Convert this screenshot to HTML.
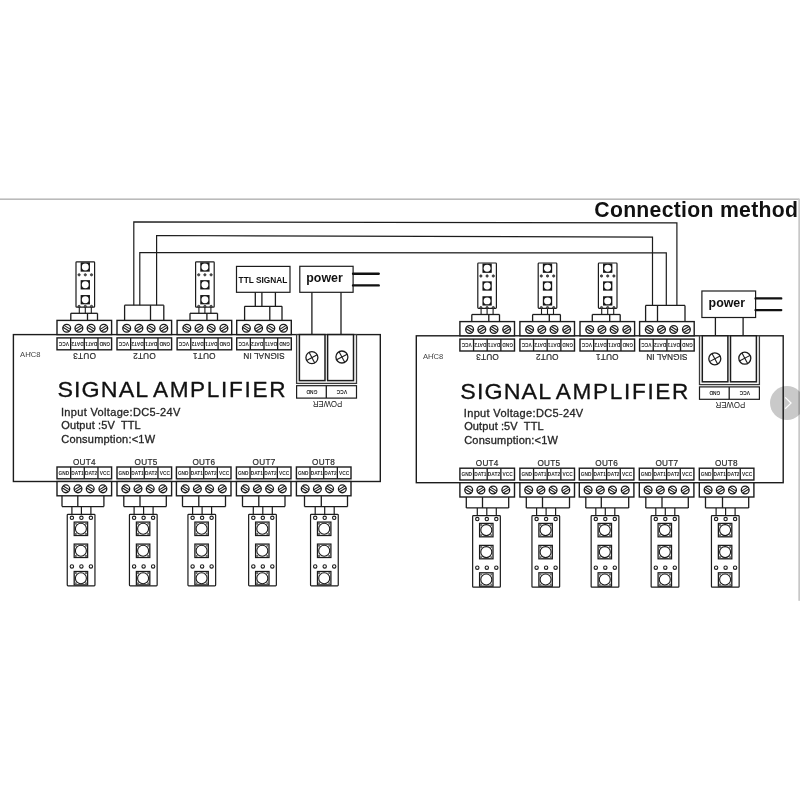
<!DOCTYPE html>
<html lang="en"><head><meta charset="utf-8"><title>Connection method</title>
<style>
html,body{margin:0;padding:0;background:#fff;}
body{width:800px;height:800px;overflow:hidden;position:relative;font-family:"Liberation Sans",sans-serif;}
svg{position:absolute;left:0;top:0;display:block;will-change:transform;}
svg text{font-family:"Liberation Sans",sans-serif;}
</style></head><body>
<svg width="800" height="800" viewBox="0 0 800 800">
<rect x="0" y="0" width="800" height="800" fill="#fff"/>

<rect x="0" y="198.55" width="799" height="1.2" fill="#a4a4a4"/>
<rect x="798.3" y="198.6" width="1.7" height="402.2" fill="#c8c8c8"/>
<text x="594.30" y="216.80" font-size="21.2" text-anchor="start" font-weight="bold" fill="#111" textLength="203.60" lengthAdjust="spacing" >Connection method</text>
<polyline points="133.80,305.20 133.80,221.90 676.90,222.90 676.90,305.40" fill="none" stroke="#1c1c1c" stroke-width="1.2"/>
<polyline points="156.60,305.20 156.60,235.50 652.50,237.20 652.50,305.40" fill="none" stroke="#1c1c1c" stroke-width="1.2"/>
<polyline points="139.80,305.20 139.80,252.50 666.30,252.90 666.30,305.40" fill="none" stroke="#1c1c1c" stroke-width="1.2"/>
<g transform="translate(0.00 0.00)">
<rect x="13.40" y="334.60" width="366.90" height="146.90" fill="none" stroke="#1c1c1c" stroke-width="1.4" />
<rect x="57.00" y="320.40" width="54.60" height="14.20" fill="#fff" stroke="#1c1c1c" stroke-width="1.4" />
<circle cx="66.70" cy="328.30" r="3.90" fill="none" stroke="#1c1c1c" stroke-width="1.3"/>
<line x1="64.11" y1="325.38" x2="70.46" y2="329.35" stroke="#1c1c1c" stroke-width="1.1" />
<line x1="62.94" y1="327.25" x2="69.29" y2="331.22" stroke="#1c1c1c" stroke-width="1.1" />
<circle cx="78.90" cy="328.30" r="3.90" fill="none" stroke="#1c1c1c" stroke-width="1.3"/>
<line x1="75.14" y1="329.35" x2="81.49" y2="325.38" stroke="#1c1c1c" stroke-width="1.1" />
<line x1="76.31" y1="331.22" x2="82.66" y2="327.25" stroke="#1c1c1c" stroke-width="1.1" />
<circle cx="91.10" cy="328.30" r="3.90" fill="none" stroke="#1c1c1c" stroke-width="1.3"/>
<line x1="88.51" y1="325.38" x2="94.86" y2="329.35" stroke="#1c1c1c" stroke-width="1.1" />
<line x1="87.34" y1="327.25" x2="93.69" y2="331.22" stroke="#1c1c1c" stroke-width="1.1" />
<circle cx="103.80" cy="328.30" r="3.90" fill="none" stroke="#1c1c1c" stroke-width="1.3"/>
<line x1="100.04" y1="329.35" x2="106.39" y2="325.38" stroke="#1c1c1c" stroke-width="1.1" />
<line x1="101.21" y1="331.22" x2="107.56" y2="327.25" stroke="#1c1c1c" stroke-width="1.1" />
<rect x="57.00" y="337.90" width="54.60" height="11.90" fill="none" stroke="#1c1c1c" stroke-width="1.4" />
<line x1="70.65" y1="337.90" x2="70.65" y2="349.80" stroke="#1c1c1c" stroke-width="1.3" />
<line x1="84.30" y1="337.90" x2="84.30" y2="349.80" stroke="#1c1c1c" stroke-width="1.3" />
<line x1="97.95" y1="337.90" x2="97.95" y2="349.80" stroke="#1c1c1c" stroke-width="1.3" />
<text x="63.83" y="342.05" font-size="5.2" text-anchor="middle" font-weight="bold" fill="#2a2a2a" transform="rotate(180 63.83 342.05)" textLength="10.20" lengthAdjust="spacingAndGlyphs" >VCC</text>
<text x="77.47" y="342.05" font-size="5.2" text-anchor="middle" font-weight="bold" fill="#2a2a2a" transform="rotate(180 77.47 342.05)" textLength="12.30" lengthAdjust="spacingAndGlyphs" >DAT2</text>
<text x="91.12" y="342.05" font-size="5.2" text-anchor="middle" font-weight="bold" fill="#2a2a2a" transform="rotate(180 91.12 342.05)" textLength="12.30" lengthAdjust="spacingAndGlyphs" >DAT1</text>
<text x="104.78" y="342.05" font-size="5.2" text-anchor="middle" font-weight="bold" fill="#2a2a2a" transform="rotate(180 104.78 342.05)" textLength="10.60" lengthAdjust="spacingAndGlyphs" >GND</text>
<text x="84.60" y="352.70" font-size="8.2" text-anchor="middle" font-weight="normal" fill="#2a2a2a" transform="rotate(180 84.60 352.70)" textLength="22.60" lengthAdjust="spacing" stroke="#2a2a2a" stroke-width="0.2">OUT3</text>
<rect x="117.00" y="320.40" width="54.60" height="14.20" fill="#fff" stroke="#1c1c1c" stroke-width="1.4" />
<circle cx="126.70" cy="328.30" r="3.90" fill="none" stroke="#1c1c1c" stroke-width="1.3"/>
<line x1="124.11" y1="325.38" x2="130.46" y2="329.35" stroke="#1c1c1c" stroke-width="1.1" />
<line x1="122.94" y1="327.25" x2="129.29" y2="331.22" stroke="#1c1c1c" stroke-width="1.1" />
<circle cx="138.90" cy="328.30" r="3.90" fill="none" stroke="#1c1c1c" stroke-width="1.3"/>
<line x1="135.14" y1="329.35" x2="141.49" y2="325.38" stroke="#1c1c1c" stroke-width="1.1" />
<line x1="136.31" y1="331.22" x2="142.66" y2="327.25" stroke="#1c1c1c" stroke-width="1.1" />
<circle cx="151.10" cy="328.30" r="3.90" fill="none" stroke="#1c1c1c" stroke-width="1.3"/>
<line x1="148.51" y1="325.38" x2="154.86" y2="329.35" stroke="#1c1c1c" stroke-width="1.1" />
<line x1="147.34" y1="327.25" x2="153.69" y2="331.22" stroke="#1c1c1c" stroke-width="1.1" />
<circle cx="163.80" cy="328.30" r="3.90" fill="none" stroke="#1c1c1c" stroke-width="1.3"/>
<line x1="160.04" y1="329.35" x2="166.39" y2="325.38" stroke="#1c1c1c" stroke-width="1.1" />
<line x1="161.21" y1="331.22" x2="167.56" y2="327.25" stroke="#1c1c1c" stroke-width="1.1" />
<rect x="117.00" y="337.90" width="54.60" height="11.90" fill="none" stroke="#1c1c1c" stroke-width="1.4" />
<line x1="130.65" y1="337.90" x2="130.65" y2="349.80" stroke="#1c1c1c" stroke-width="1.3" />
<line x1="144.30" y1="337.90" x2="144.30" y2="349.80" stroke="#1c1c1c" stroke-width="1.3" />
<line x1="157.95" y1="337.90" x2="157.95" y2="349.80" stroke="#1c1c1c" stroke-width="1.3" />
<text x="123.83" y="342.05" font-size="5.2" text-anchor="middle" font-weight="bold" fill="#2a2a2a" transform="rotate(180 123.83 342.05)" textLength="10.20" lengthAdjust="spacingAndGlyphs" >VCC</text>
<text x="137.47" y="342.05" font-size="5.2" text-anchor="middle" font-weight="bold" fill="#2a2a2a" transform="rotate(180 137.47 342.05)" textLength="12.30" lengthAdjust="spacingAndGlyphs" >DAT2</text>
<text x="151.12" y="342.05" font-size="5.2" text-anchor="middle" font-weight="bold" fill="#2a2a2a" transform="rotate(180 151.12 342.05)" textLength="12.30" lengthAdjust="spacingAndGlyphs" >DAT1</text>
<text x="164.78" y="342.05" font-size="5.2" text-anchor="middle" font-weight="bold" fill="#2a2a2a" transform="rotate(180 164.78 342.05)" textLength="10.60" lengthAdjust="spacingAndGlyphs" >GND</text>
<text x="144.40" y="352.70" font-size="8.2" text-anchor="middle" font-weight="normal" fill="#2a2a2a" transform="rotate(180 144.40 352.70)" textLength="22.60" lengthAdjust="spacing" stroke="#2a2a2a" stroke-width="0.2">OUT2</text>
<rect x="177.10" y="320.40" width="54.60" height="14.20" fill="#fff" stroke="#1c1c1c" stroke-width="1.4" />
<circle cx="186.80" cy="328.30" r="3.90" fill="none" stroke="#1c1c1c" stroke-width="1.3"/>
<line x1="184.21" y1="325.38" x2="190.56" y2="329.35" stroke="#1c1c1c" stroke-width="1.1" />
<line x1="183.04" y1="327.25" x2="189.39" y2="331.22" stroke="#1c1c1c" stroke-width="1.1" />
<circle cx="199.00" cy="328.30" r="3.90" fill="none" stroke="#1c1c1c" stroke-width="1.3"/>
<line x1="195.24" y1="329.35" x2="201.59" y2="325.38" stroke="#1c1c1c" stroke-width="1.1" />
<line x1="196.41" y1="331.22" x2="202.76" y2="327.25" stroke="#1c1c1c" stroke-width="1.1" />
<circle cx="211.20" cy="328.30" r="3.90" fill="none" stroke="#1c1c1c" stroke-width="1.3"/>
<line x1="208.61" y1="325.38" x2="214.96" y2="329.35" stroke="#1c1c1c" stroke-width="1.1" />
<line x1="207.44" y1="327.25" x2="213.79" y2="331.22" stroke="#1c1c1c" stroke-width="1.1" />
<circle cx="223.90" cy="328.30" r="3.90" fill="none" stroke="#1c1c1c" stroke-width="1.3"/>
<line x1="220.14" y1="329.35" x2="226.49" y2="325.38" stroke="#1c1c1c" stroke-width="1.1" />
<line x1="221.31" y1="331.22" x2="227.66" y2="327.25" stroke="#1c1c1c" stroke-width="1.1" />
<rect x="177.10" y="337.90" width="54.60" height="11.90" fill="none" stroke="#1c1c1c" stroke-width="1.4" />
<line x1="190.75" y1="337.90" x2="190.75" y2="349.80" stroke="#1c1c1c" stroke-width="1.3" />
<line x1="204.40" y1="337.90" x2="204.40" y2="349.80" stroke="#1c1c1c" stroke-width="1.3" />
<line x1="218.05" y1="337.90" x2="218.05" y2="349.80" stroke="#1c1c1c" stroke-width="1.3" />
<text x="183.92" y="342.05" font-size="5.2" text-anchor="middle" font-weight="bold" fill="#2a2a2a" transform="rotate(180 183.92 342.05)" textLength="10.20" lengthAdjust="spacingAndGlyphs" >VCC</text>
<text x="197.57" y="342.05" font-size="5.2" text-anchor="middle" font-weight="bold" fill="#2a2a2a" transform="rotate(180 197.57 342.05)" textLength="12.30" lengthAdjust="spacingAndGlyphs" >DAT2</text>
<text x="211.22" y="342.05" font-size="5.2" text-anchor="middle" font-weight="bold" fill="#2a2a2a" transform="rotate(180 211.22 342.05)" textLength="12.30" lengthAdjust="spacingAndGlyphs" >DAT1</text>
<text x="224.88" y="342.05" font-size="5.2" text-anchor="middle" font-weight="bold" fill="#2a2a2a" transform="rotate(180 224.88 342.05)" textLength="10.60" lengthAdjust="spacingAndGlyphs" >GND</text>
<text x="204.30" y="352.70" font-size="8.2" text-anchor="middle" font-weight="normal" fill="#2a2a2a" transform="rotate(180 204.30 352.70)" textLength="22.60" lengthAdjust="spacing" stroke="#2a2a2a" stroke-width="0.2">OUT1</text>
<rect x="236.70" y="320.40" width="54.60" height="14.20" fill="#fff" stroke="#1c1c1c" stroke-width="1.4" />
<circle cx="246.40" cy="328.30" r="3.90" fill="none" stroke="#1c1c1c" stroke-width="1.3"/>
<line x1="243.81" y1="325.38" x2="250.16" y2="329.35" stroke="#1c1c1c" stroke-width="1.1" />
<line x1="242.64" y1="327.25" x2="248.99" y2="331.22" stroke="#1c1c1c" stroke-width="1.1" />
<circle cx="258.60" cy="328.30" r="3.90" fill="none" stroke="#1c1c1c" stroke-width="1.3"/>
<line x1="254.84" y1="329.35" x2="261.19" y2="325.38" stroke="#1c1c1c" stroke-width="1.1" />
<line x1="256.01" y1="331.22" x2="262.36" y2="327.25" stroke="#1c1c1c" stroke-width="1.1" />
<circle cx="270.80" cy="328.30" r="3.90" fill="none" stroke="#1c1c1c" stroke-width="1.3"/>
<line x1="268.21" y1="325.38" x2="274.56" y2="329.35" stroke="#1c1c1c" stroke-width="1.1" />
<line x1="267.04" y1="327.25" x2="273.39" y2="331.22" stroke="#1c1c1c" stroke-width="1.1" />
<circle cx="283.50" cy="328.30" r="3.90" fill="none" stroke="#1c1c1c" stroke-width="1.3"/>
<line x1="279.74" y1="329.35" x2="286.09" y2="325.38" stroke="#1c1c1c" stroke-width="1.1" />
<line x1="280.91" y1="331.22" x2="287.26" y2="327.25" stroke="#1c1c1c" stroke-width="1.1" />
<rect x="236.70" y="337.90" width="54.60" height="11.90" fill="none" stroke="#1c1c1c" stroke-width="1.4" />
<line x1="250.35" y1="337.90" x2="250.35" y2="349.80" stroke="#1c1c1c" stroke-width="1.3" />
<line x1="264.00" y1="337.90" x2="264.00" y2="349.80" stroke="#1c1c1c" stroke-width="1.3" />
<line x1="277.65" y1="337.90" x2="277.65" y2="349.80" stroke="#1c1c1c" stroke-width="1.3" />
<text x="243.52" y="342.05" font-size="5.2" text-anchor="middle" font-weight="bold" fill="#2a2a2a" transform="rotate(180 243.52 342.05)" textLength="10.20" lengthAdjust="spacingAndGlyphs" >VCC</text>
<text x="257.18" y="342.05" font-size="5.2" text-anchor="middle" font-weight="bold" fill="#2a2a2a" transform="rotate(180 257.18 342.05)" textLength="12.30" lengthAdjust="spacingAndGlyphs" >DAT2</text>
<text x="270.82" y="342.05" font-size="5.2" text-anchor="middle" font-weight="bold" fill="#2a2a2a" transform="rotate(180 270.82 342.05)" textLength="12.30" lengthAdjust="spacingAndGlyphs" >DAT1</text>
<text x="284.47" y="342.05" font-size="5.2" text-anchor="middle" font-weight="bold" fill="#2a2a2a" transform="rotate(180 284.47 342.05)" textLength="10.60" lengthAdjust="spacingAndGlyphs" >GND</text>
<text x="264.00" y="352.70" font-size="8.2" text-anchor="middle" font-weight="normal" fill="#2a2a2a" transform="rotate(180 264.00 352.70)" textLength="41.40" lengthAdjust="spacing" stroke="#2a2a2a" stroke-width="0.2">SIGNAL IN</text>
<rect x="57.00" y="467.00" width="54.60" height="11.80" fill="none" stroke="#1c1c1c" stroke-width="1.4" />
<line x1="70.65" y1="467.00" x2="70.65" y2="478.80" stroke="#1c1c1c" stroke-width="1.3" />
<line x1="84.30" y1="467.00" x2="84.30" y2="478.80" stroke="#1c1c1c" stroke-width="1.3" />
<line x1="97.95" y1="467.00" x2="97.95" y2="478.80" stroke="#1c1c1c" stroke-width="1.3" />
<text x="63.83" y="474.80" font-size="5.2" text-anchor="middle" font-weight="bold" fill="#2a2a2a" textLength="10.60" lengthAdjust="spacingAndGlyphs" >GND</text>
<text x="77.47" y="474.80" font-size="5.2" text-anchor="middle" font-weight="bold" fill="#2a2a2a" textLength="12.30" lengthAdjust="spacingAndGlyphs" >DAT1</text>
<text x="91.12" y="474.80" font-size="5.2" text-anchor="middle" font-weight="bold" fill="#2a2a2a" textLength="12.30" lengthAdjust="spacingAndGlyphs" >DAT2</text>
<text x="104.78" y="474.80" font-size="5.2" text-anchor="middle" font-weight="bold" fill="#2a2a2a" textLength="10.20" lengthAdjust="spacingAndGlyphs" >VCC</text>
<rect x="57.00" y="481.50" width="54.60" height="14.30" fill="#fff" stroke="#1c1c1c" stroke-width="1.4" />
<circle cx="65.80" cy="488.85" r="3.90" fill="none" stroke="#1c1c1c" stroke-width="1.3"/>
<line x1="63.21" y1="485.93" x2="69.56" y2="489.90" stroke="#1c1c1c" stroke-width="1.1" />
<line x1="62.04" y1="487.80" x2="68.39" y2="491.77" stroke="#1c1c1c" stroke-width="1.1" />
<circle cx="78.00" cy="488.85" r="3.90" fill="none" stroke="#1c1c1c" stroke-width="1.3"/>
<line x1="74.24" y1="489.90" x2="80.59" y2="485.93" stroke="#1c1c1c" stroke-width="1.1" />
<line x1="75.41" y1="491.77" x2="81.76" y2="487.80" stroke="#1c1c1c" stroke-width="1.1" />
<circle cx="90.20" cy="488.85" r="3.90" fill="none" stroke="#1c1c1c" stroke-width="1.3"/>
<line x1="87.61" y1="485.93" x2="93.96" y2="489.90" stroke="#1c1c1c" stroke-width="1.1" />
<line x1="86.44" y1="487.80" x2="92.79" y2="491.77" stroke="#1c1c1c" stroke-width="1.1" />
<circle cx="102.90" cy="488.85" r="3.90" fill="none" stroke="#1c1c1c" stroke-width="1.3"/>
<line x1="99.14" y1="489.90" x2="105.49" y2="485.93" stroke="#1c1c1c" stroke-width="1.1" />
<line x1="100.31" y1="491.77" x2="106.66" y2="487.80" stroke="#1c1c1c" stroke-width="1.1" />
<text x="84.20" y="464.60" font-size="8.2" text-anchor="middle" font-weight="normal" fill="#2a2a2a" textLength="22.60" lengthAdjust="spacing" stroke="#2a2a2a" stroke-width="0.2">OUT4</text>
<rect x="117.00" y="467.00" width="54.60" height="11.80" fill="none" stroke="#1c1c1c" stroke-width="1.4" />
<line x1="130.65" y1="467.00" x2="130.65" y2="478.80" stroke="#1c1c1c" stroke-width="1.3" />
<line x1="144.30" y1="467.00" x2="144.30" y2="478.80" stroke="#1c1c1c" stroke-width="1.3" />
<line x1="157.95" y1="467.00" x2="157.95" y2="478.80" stroke="#1c1c1c" stroke-width="1.3" />
<text x="123.83" y="474.80" font-size="5.2" text-anchor="middle" font-weight="bold" fill="#2a2a2a" textLength="10.60" lengthAdjust="spacingAndGlyphs" >GND</text>
<text x="137.47" y="474.80" font-size="5.2" text-anchor="middle" font-weight="bold" fill="#2a2a2a" textLength="12.30" lengthAdjust="spacingAndGlyphs" >DAT1</text>
<text x="151.12" y="474.80" font-size="5.2" text-anchor="middle" font-weight="bold" fill="#2a2a2a" textLength="12.30" lengthAdjust="spacingAndGlyphs" >DAT2</text>
<text x="164.78" y="474.80" font-size="5.2" text-anchor="middle" font-weight="bold" fill="#2a2a2a" textLength="10.20" lengthAdjust="spacingAndGlyphs" >VCC</text>
<rect x="117.00" y="481.50" width="54.60" height="14.30" fill="#fff" stroke="#1c1c1c" stroke-width="1.4" />
<circle cx="125.80" cy="488.85" r="3.90" fill="none" stroke="#1c1c1c" stroke-width="1.3"/>
<line x1="123.21" y1="485.93" x2="129.56" y2="489.90" stroke="#1c1c1c" stroke-width="1.1" />
<line x1="122.04" y1="487.80" x2="128.39" y2="491.77" stroke="#1c1c1c" stroke-width="1.1" />
<circle cx="138.00" cy="488.85" r="3.90" fill="none" stroke="#1c1c1c" stroke-width="1.3"/>
<line x1="134.24" y1="489.90" x2="140.59" y2="485.93" stroke="#1c1c1c" stroke-width="1.1" />
<line x1="135.41" y1="491.77" x2="141.76" y2="487.80" stroke="#1c1c1c" stroke-width="1.1" />
<circle cx="150.20" cy="488.85" r="3.90" fill="none" stroke="#1c1c1c" stroke-width="1.3"/>
<line x1="147.61" y1="485.93" x2="153.96" y2="489.90" stroke="#1c1c1c" stroke-width="1.1" />
<line x1="146.44" y1="487.80" x2="152.79" y2="491.77" stroke="#1c1c1c" stroke-width="1.1" />
<circle cx="162.90" cy="488.85" r="3.90" fill="none" stroke="#1c1c1c" stroke-width="1.3"/>
<line x1="159.14" y1="489.90" x2="165.49" y2="485.93" stroke="#1c1c1c" stroke-width="1.1" />
<line x1="160.31" y1="491.77" x2="166.66" y2="487.80" stroke="#1c1c1c" stroke-width="1.1" />
<text x="145.90" y="464.60" font-size="8.2" text-anchor="middle" font-weight="normal" fill="#2a2a2a" textLength="22.60" lengthAdjust="spacing" stroke="#2a2a2a" stroke-width="0.2">OUT5</text>
<rect x="176.40" y="467.00" width="54.60" height="11.80" fill="none" stroke="#1c1c1c" stroke-width="1.4" />
<line x1="190.05" y1="467.00" x2="190.05" y2="478.80" stroke="#1c1c1c" stroke-width="1.3" />
<line x1="203.70" y1="467.00" x2="203.70" y2="478.80" stroke="#1c1c1c" stroke-width="1.3" />
<line x1="217.35" y1="467.00" x2="217.35" y2="478.80" stroke="#1c1c1c" stroke-width="1.3" />
<text x="183.22" y="474.80" font-size="5.2" text-anchor="middle" font-weight="bold" fill="#2a2a2a" textLength="10.60" lengthAdjust="spacingAndGlyphs" >GND</text>
<text x="196.88" y="474.80" font-size="5.2" text-anchor="middle" font-weight="bold" fill="#2a2a2a" textLength="12.30" lengthAdjust="spacingAndGlyphs" >DAT1</text>
<text x="210.53" y="474.80" font-size="5.2" text-anchor="middle" font-weight="bold" fill="#2a2a2a" textLength="12.30" lengthAdjust="spacingAndGlyphs" >DAT2</text>
<text x="224.18" y="474.80" font-size="5.2" text-anchor="middle" font-weight="bold" fill="#2a2a2a" textLength="10.20" lengthAdjust="spacingAndGlyphs" >VCC</text>
<rect x="176.40" y="481.50" width="54.60" height="14.30" fill="#fff" stroke="#1c1c1c" stroke-width="1.4" />
<circle cx="185.20" cy="488.85" r="3.90" fill="none" stroke="#1c1c1c" stroke-width="1.3"/>
<line x1="182.61" y1="485.93" x2="188.96" y2="489.90" stroke="#1c1c1c" stroke-width="1.1" />
<line x1="181.44" y1="487.80" x2="187.79" y2="491.77" stroke="#1c1c1c" stroke-width="1.1" />
<circle cx="197.40" cy="488.85" r="3.90" fill="none" stroke="#1c1c1c" stroke-width="1.3"/>
<line x1="193.64" y1="489.90" x2="199.99" y2="485.93" stroke="#1c1c1c" stroke-width="1.1" />
<line x1="194.81" y1="491.77" x2="201.16" y2="487.80" stroke="#1c1c1c" stroke-width="1.1" />
<circle cx="209.60" cy="488.85" r="3.90" fill="none" stroke="#1c1c1c" stroke-width="1.3"/>
<line x1="207.01" y1="485.93" x2="213.36" y2="489.90" stroke="#1c1c1c" stroke-width="1.1" />
<line x1="205.84" y1="487.80" x2="212.19" y2="491.77" stroke="#1c1c1c" stroke-width="1.1" />
<circle cx="222.30" cy="488.85" r="3.90" fill="none" stroke="#1c1c1c" stroke-width="1.3"/>
<line x1="218.54" y1="489.90" x2="224.89" y2="485.93" stroke="#1c1c1c" stroke-width="1.1" />
<line x1="219.71" y1="491.77" x2="226.06" y2="487.80" stroke="#1c1c1c" stroke-width="1.1" />
<text x="203.70" y="464.60" font-size="8.2" text-anchor="middle" font-weight="normal" fill="#2a2a2a" textLength="22.60" lengthAdjust="spacing" stroke="#2a2a2a" stroke-width="0.2">OUT6</text>
<rect x="236.40" y="467.00" width="54.60" height="11.80" fill="none" stroke="#1c1c1c" stroke-width="1.4" />
<line x1="250.05" y1="467.00" x2="250.05" y2="478.80" stroke="#1c1c1c" stroke-width="1.3" />
<line x1="263.70" y1="467.00" x2="263.70" y2="478.80" stroke="#1c1c1c" stroke-width="1.3" />
<line x1="277.35" y1="467.00" x2="277.35" y2="478.80" stroke="#1c1c1c" stroke-width="1.3" />
<text x="243.22" y="474.80" font-size="5.2" text-anchor="middle" font-weight="bold" fill="#2a2a2a" textLength="10.60" lengthAdjust="spacingAndGlyphs" >GND</text>
<text x="256.88" y="474.80" font-size="5.2" text-anchor="middle" font-weight="bold" fill="#2a2a2a" textLength="12.30" lengthAdjust="spacingAndGlyphs" >DAT1</text>
<text x="270.52" y="474.80" font-size="5.2" text-anchor="middle" font-weight="bold" fill="#2a2a2a" textLength="12.30" lengthAdjust="spacingAndGlyphs" >DAT2</text>
<text x="284.18" y="474.80" font-size="5.2" text-anchor="middle" font-weight="bold" fill="#2a2a2a" textLength="10.20" lengthAdjust="spacingAndGlyphs" >VCC</text>
<rect x="236.40" y="481.50" width="54.60" height="14.30" fill="#fff" stroke="#1c1c1c" stroke-width="1.4" />
<circle cx="245.20" cy="488.85" r="3.90" fill="none" stroke="#1c1c1c" stroke-width="1.3"/>
<line x1="242.61" y1="485.93" x2="248.96" y2="489.90" stroke="#1c1c1c" stroke-width="1.1" />
<line x1="241.44" y1="487.80" x2="247.79" y2="491.77" stroke="#1c1c1c" stroke-width="1.1" />
<circle cx="257.40" cy="488.85" r="3.90" fill="none" stroke="#1c1c1c" stroke-width="1.3"/>
<line x1="253.64" y1="489.90" x2="259.99" y2="485.93" stroke="#1c1c1c" stroke-width="1.1" />
<line x1="254.81" y1="491.77" x2="261.16" y2="487.80" stroke="#1c1c1c" stroke-width="1.1" />
<circle cx="269.60" cy="488.85" r="3.90" fill="none" stroke="#1c1c1c" stroke-width="1.3"/>
<line x1="267.01" y1="485.93" x2="273.36" y2="489.90" stroke="#1c1c1c" stroke-width="1.1" />
<line x1="265.84" y1="487.80" x2="272.19" y2="491.77" stroke="#1c1c1c" stroke-width="1.1" />
<circle cx="282.30" cy="488.85" r="3.90" fill="none" stroke="#1c1c1c" stroke-width="1.3"/>
<line x1="278.54" y1="489.90" x2="284.89" y2="485.93" stroke="#1c1c1c" stroke-width="1.1" />
<line x1="279.71" y1="491.77" x2="286.06" y2="487.80" stroke="#1c1c1c" stroke-width="1.1" />
<text x="263.90" y="464.60" font-size="8.2" text-anchor="middle" font-weight="normal" fill="#2a2a2a" textLength="22.60" lengthAdjust="spacing" stroke="#2a2a2a" stroke-width="0.2">OUT7</text>
<rect x="296.40" y="467.00" width="54.60" height="11.80" fill="none" stroke="#1c1c1c" stroke-width="1.4" />
<line x1="310.05" y1="467.00" x2="310.05" y2="478.80" stroke="#1c1c1c" stroke-width="1.3" />
<line x1="323.70" y1="467.00" x2="323.70" y2="478.80" stroke="#1c1c1c" stroke-width="1.3" />
<line x1="337.35" y1="467.00" x2="337.35" y2="478.80" stroke="#1c1c1c" stroke-width="1.3" />
<text x="303.22" y="474.80" font-size="5.2" text-anchor="middle" font-weight="bold" fill="#2a2a2a" textLength="10.60" lengthAdjust="spacingAndGlyphs" >GND</text>
<text x="316.88" y="474.80" font-size="5.2" text-anchor="middle" font-weight="bold" fill="#2a2a2a" textLength="12.30" lengthAdjust="spacingAndGlyphs" >DAT1</text>
<text x="330.52" y="474.80" font-size="5.2" text-anchor="middle" font-weight="bold" fill="#2a2a2a" textLength="12.30" lengthAdjust="spacingAndGlyphs" >DAT2</text>
<text x="344.17" y="474.80" font-size="5.2" text-anchor="middle" font-weight="bold" fill="#2a2a2a" textLength="10.20" lengthAdjust="spacingAndGlyphs" >VCC</text>
<rect x="296.40" y="481.50" width="54.60" height="14.30" fill="#fff" stroke="#1c1c1c" stroke-width="1.4" />
<circle cx="305.20" cy="488.85" r="3.90" fill="none" stroke="#1c1c1c" stroke-width="1.3"/>
<line x1="302.61" y1="485.93" x2="308.96" y2="489.90" stroke="#1c1c1c" stroke-width="1.1" />
<line x1="301.44" y1="487.80" x2="307.79" y2="491.77" stroke="#1c1c1c" stroke-width="1.1" />
<circle cx="317.40" cy="488.85" r="3.90" fill="none" stroke="#1c1c1c" stroke-width="1.3"/>
<line x1="313.64" y1="489.90" x2="319.99" y2="485.93" stroke="#1c1c1c" stroke-width="1.1" />
<line x1="314.81" y1="491.77" x2="321.16" y2="487.80" stroke="#1c1c1c" stroke-width="1.1" />
<circle cx="329.60" cy="488.85" r="3.90" fill="none" stroke="#1c1c1c" stroke-width="1.3"/>
<line x1="327.01" y1="485.93" x2="333.36" y2="489.90" stroke="#1c1c1c" stroke-width="1.1" />
<line x1="325.84" y1="487.80" x2="332.19" y2="491.77" stroke="#1c1c1c" stroke-width="1.1" />
<circle cx="342.30" cy="488.85" r="3.90" fill="none" stroke="#1c1c1c" stroke-width="1.3"/>
<line x1="338.54" y1="489.90" x2="344.89" y2="485.93" stroke="#1c1c1c" stroke-width="1.1" />
<line x1="339.71" y1="491.77" x2="346.06" y2="487.80" stroke="#1c1c1c" stroke-width="1.1" />
<text x="323.40" y="464.60" font-size="8.2" text-anchor="middle" font-weight="normal" fill="#2a2a2a" textLength="22.60" lengthAdjust="spacing" stroke="#2a2a2a" stroke-width="0.2">OUT8</text>
<rect x="296.60" y="334.60" width="59.90" height="48.80" fill="#fff" stroke="#3a3a3a" stroke-width="1.3" />
<rect x="299.40" y="334.60" width="25.60" height="46.00" fill="#fff" stroke="#1c1c1c" stroke-width="1.5" />
<rect x="327.60" y="334.60" width="25.90" height="46.00" fill="#fff" stroke="#1c1c1c" stroke-width="1.5" />
<circle cx="311.90" cy="357.60" r="6.00" fill="none" stroke="#1c1c1c" stroke-width="1.3"/>
<line x1="309.08" y1="352.30" x2="314.72" y2="362.90" stroke="#1c1c1c" stroke-width="1.1" />
<line x1="306.60" y1="360.42" x2="317.20" y2="354.78" stroke="#1c1c1c" stroke-width="1.1" />
<circle cx="341.90" cy="357.00" r="6.00" fill="none" stroke="#1c1c1c" stroke-width="1.3"/>
<line x1="339.08" y1="351.70" x2="344.72" y2="362.30" stroke="#1c1c1c" stroke-width="1.1" />
<line x1="336.60" y1="359.82" x2="347.20" y2="354.18" stroke="#1c1c1c" stroke-width="1.1" />
<rect x="296.60" y="385.70" width="59.90" height="12.40" fill="none" stroke="#1c1c1c" stroke-width="1.2" />
<line x1="326.30" y1="385.70" x2="326.30" y2="398.10" stroke="#1c1c1c" stroke-width="1.3" />
<text x="311.90" y="390.10" font-size="5.2" text-anchor="middle" font-weight="bold" fill="#2a2a2a" transform="rotate(180 311.90 390.10)" textLength="11.00" lengthAdjust="spacingAndGlyphs" >GND</text>
<text x="341.90" y="390.10" font-size="5.2" text-anchor="middle" font-weight="bold" fill="#2a2a2a" transform="rotate(180 341.90 390.10)" textLength="10.60" lengthAdjust="spacingAndGlyphs" >VCC</text>
<text x="327.50" y="401.00" font-size="8.2" text-anchor="middle" font-weight="normal" fill="#222" transform="rotate(180 327.50 401.00)" textLength="29.50" lengthAdjust="spacingAndGlyphs" >POWER</text>
<text transform="translate(57.40 397.30) scale(1.03 1)" x="0" y="0" font-size="22.6" text-anchor="start" font-weight="normal" fill="#111" textLength="88.25" lengthAdjust="spacing" stroke="#111" stroke-width="0.3">SIGNAL</text>
<text transform="translate(152.90 397.30) scale(1.0001 1)" x="0" y="0" font-size="22.6" text-anchor="start" font-weight="normal" fill="#111" textLength="132.59" lengthAdjust="spacing" stroke="#111" stroke-width="0.3">AMPLIFIER</text>
<text transform="translate(60.90 415.90) scale(1.06 1)" x="0" y="0" font-size="10.4" text-anchor="start" font-weight="normal" fill="#262626" textLength="112.64" lengthAdjust="spacing" stroke="#262626" stroke-width="0.3">Input Voltage:DC5-24V</text>
<text transform="translate(61.30 429.00) scale(1.06 1)" x="0" y="0" font-size="10.4" text-anchor="start" font-weight="normal" fill="#262626" textLength="74.91" lengthAdjust="spacing" stroke="#262626" stroke-width="0.3">Output :5V&#160; TTL</text>
<text transform="translate(61.30 442.60) scale(1.06 1)" x="0" y="0" font-size="10.4" text-anchor="start" font-weight="normal" fill="#262626" textLength="88.49" lengthAdjust="spacing" stroke="#262626" stroke-width="0.3">Consumption:&lt;1W</text>
<text x="20.10" y="357.40" font-size="7.3" text-anchor="start" font-weight="normal" fill="#444" textLength="20.30" lengthAdjust="spacingAndGlyphs" >AHC8</text>
<line x1="30.60" y1="352.00" x2="29.90" y2="353.60" stroke="#444" stroke-width="0.6" />
</g>
<line x1="124.60" y1="305.20" x2="163.80" y2="305.20" stroke="#1c1c1c" stroke-width="1.3" />
<line x1="124.60" y1="305.20" x2="124.60" y2="320.40" stroke="#1c1c1c" stroke-width="1.3" />
<line x1="163.80" y1="305.20" x2="163.80" y2="320.40" stroke="#1c1c1c" stroke-width="1.3" />
<line x1="150.50" y1="305.20" x2="150.50" y2="320.40" stroke="#1c1c1c" stroke-width="1.3" />
<line x1="70.80" y1="320.40" x2="70.80" y2="313.30" stroke="#1c1c1c" stroke-width="1.3" />
<line x1="97.50" y1="320.40" x2="97.50" y2="313.30" stroke="#1c1c1c" stroke-width="1.3" />
<line x1="70.80" y1="313.30" x2="97.50" y2="313.30" stroke="#1c1c1c" stroke-width="1.3" />
<line x1="87.50" y1="320.40" x2="87.50" y2="313.30" stroke="#1c1c1c" stroke-width="1.3" />
<line x1="79.30" y1="313.30" x2="79.30" y2="306.80" stroke="#1c1c1c" stroke-width="1.1" />
<line x1="85.30" y1="313.30" x2="85.30" y2="306.80" stroke="#1c1c1c" stroke-width="1.1" />
<line x1="91.30" y1="313.30" x2="91.30" y2="306.80" stroke="#1c1c1c" stroke-width="1.1" />
<rect x="76.00" y="261.80" width="18.60" height="45.40" fill="#fff" stroke="#1c1c1c" stroke-width="1.2" rx="0.8"/>
<rect x="80.65" y="262.35" width="9.30" height="9.30" fill="#161616"/>
<circle cx="85.30" cy="267.00" r="3.45" fill="#fff"/>
<rect x="80.65" y="280.15" width="9.30" height="9.30" fill="#161616"/>
<circle cx="85.30" cy="284.80" r="3.45" fill="#fff"/>
<rect x="80.65" y="295.05" width="9.30" height="9.30" fill="#161616"/>
<circle cx="85.30" cy="299.70" r="3.45" fill="#fff"/>
<circle cx="79.10" cy="274.80" r="1.15" fill="#555" stroke="#222" stroke-width="0.7"/>
<circle cx="79.10" cy="306.40" r="1.15" fill="#555" stroke="#222" stroke-width="0.7"/>
<circle cx="85.30" cy="274.80" r="1.15" fill="#555" stroke="#222" stroke-width="0.7"/>
<circle cx="85.30" cy="306.40" r="1.15" fill="#555" stroke="#222" stroke-width="0.7"/>
<circle cx="91.50" cy="274.80" r="1.15" fill="#555" stroke="#222" stroke-width="0.7"/>
<circle cx="91.50" cy="306.40" r="1.15" fill="#555" stroke="#222" stroke-width="0.7"/>
<line x1="190.00" y1="320.40" x2="190.00" y2="313.30" stroke="#1c1c1c" stroke-width="1.3" />
<line x1="217.50" y1="320.40" x2="217.50" y2="313.30" stroke="#1c1c1c" stroke-width="1.3" />
<line x1="190.00" y1="313.30" x2="217.50" y2="313.30" stroke="#1c1c1c" stroke-width="1.3" />
<line x1="206.90" y1="320.40" x2="206.90" y2="313.30" stroke="#1c1c1c" stroke-width="1.3" />
<line x1="198.90" y1="313.30" x2="198.90" y2="306.80" stroke="#1c1c1c" stroke-width="1.1" />
<line x1="204.90" y1="313.30" x2="204.90" y2="306.80" stroke="#1c1c1c" stroke-width="1.1" />
<line x1="210.90" y1="313.30" x2="210.90" y2="306.80" stroke="#1c1c1c" stroke-width="1.1" />
<rect x="195.60" y="261.80" width="18.60" height="45.40" fill="#fff" stroke="#1c1c1c" stroke-width="1.2" rx="0.8"/>
<rect x="200.25" y="262.35" width="9.30" height="9.30" fill="#161616"/>
<circle cx="204.90" cy="267.00" r="3.45" fill="#fff"/>
<rect x="200.25" y="280.15" width="9.30" height="9.30" fill="#161616"/>
<circle cx="204.90" cy="284.80" r="3.45" fill="#fff"/>
<rect x="200.25" y="295.05" width="9.30" height="9.30" fill="#161616"/>
<circle cx="204.90" cy="299.70" r="3.45" fill="#fff"/>
<circle cx="198.70" cy="274.80" r="1.15" fill="#555" stroke="#222" stroke-width="0.7"/>
<circle cx="198.70" cy="306.40" r="1.15" fill="#555" stroke="#222" stroke-width="0.7"/>
<circle cx="204.90" cy="274.80" r="1.15" fill="#555" stroke="#222" stroke-width="0.7"/>
<circle cx="204.90" cy="306.40" r="1.15" fill="#555" stroke="#222" stroke-width="0.7"/>
<circle cx="211.10" cy="274.80" r="1.15" fill="#555" stroke="#222" stroke-width="0.7"/>
<circle cx="211.10" cy="306.40" r="1.15" fill="#555" stroke="#222" stroke-width="0.7"/>
<rect x="236.50" y="266.40" width="53.50" height="25.90" fill="#fff" stroke="#1c1c1c" stroke-width="1.2" />
<text x="263.00" y="283.20" font-size="9.4" text-anchor="middle" font-weight="bold" fill="#111" textLength="48.80" lengthAdjust="spacingAndGlyphs" >TTL SIGNAL</text>
<line x1="255.30" y1="292.30" x2="255.30" y2="306.30" stroke="#1c1c1c" stroke-width="1.3" />
<line x1="261.90" y1="292.30" x2="261.90" y2="306.30" stroke="#1c1c1c" stroke-width="1.3" />
<line x1="275.40" y1="292.30" x2="275.40" y2="306.30" stroke="#1c1c1c" stroke-width="1.3" />
<line x1="244.60" y1="306.30" x2="282.00" y2="306.30" stroke="#1c1c1c" stroke-width="1.3" />
<line x1="244.60" y1="306.30" x2="244.60" y2="320.40" stroke="#1c1c1c" stroke-width="1.3" />
<line x1="282.00" y1="306.30" x2="282.00" y2="320.40" stroke="#1c1c1c" stroke-width="1.3" />
<line x1="269.80" y1="306.30" x2="269.80" y2="320.40" stroke="#1c1c1c" stroke-width="1.3" />
<rect x="299.80" y="266.30" width="53.30" height="26.00" fill="#fff" stroke="#1c1c1c" stroke-width="1.2" />
<text x="324.55" y="281.80" font-size="12.6" text-anchor="middle" font-weight="bold" fill="#111" textLength="36.50" lengthAdjust="spacingAndGlyphs" >power</text>
<line x1="353.10" y1="273.70" x2="378.70" y2="273.70" stroke="#111" stroke-width="2.4" stroke-linecap="round"/>
<line x1="353.10" y1="285.40" x2="378.70" y2="285.40" stroke="#111" stroke-width="2.4" stroke-linecap="round"/>
<line x1="311.90" y1="292.30" x2="311.90" y2="334.60" stroke="#1c1c1c" stroke-width="1.3" />
<line x1="341.00" y1="292.30" x2="341.00" y2="334.60" stroke="#1c1c1c" stroke-width="1.3" />
<line x1="62.00" y1="495.80" x2="62.00" y2="506.60" stroke="#1c1c1c" stroke-width="1.3" />
<line x1="103.90" y1="495.80" x2="103.90" y2="506.60" stroke="#1c1c1c" stroke-width="1.3" />
<line x1="62.00" y1="506.60" x2="103.90" y2="506.60" stroke="#1c1c1c" stroke-width="1.3" />
<line x1="77.80" y1="495.80" x2="77.80" y2="506.60" stroke="#1c1c1c" stroke-width="1.3" />
<line x1="71.90" y1="506.60" x2="71.90" y2="516.30" stroke="#1c1c1c" stroke-width="1.2" />
<line x1="81.40" y1="506.60" x2="81.40" y2="516.30" stroke="#1c1c1c" stroke-width="1.2" />
<line x1="90.90" y1="506.60" x2="90.90" y2="516.30" stroke="#1c1c1c" stroke-width="1.2" />
<rect x="67.25" y="514.30" width="27.70" height="71.60" fill="#fff" stroke="#1c1c1c" stroke-width="1.2" rx="0.8"/>
<circle cx="71.90" cy="517.80" r="1.70" fill="#fff" stroke="#1c1c1c" stroke-width="1.1"/>
<circle cx="71.90" cy="566.40" r="1.70" fill="#fff" stroke="#1c1c1c" stroke-width="1.1"/>
<circle cx="81.40" cy="517.80" r="1.70" fill="#fff" stroke="#1c1c1c" stroke-width="1.1"/>
<circle cx="81.40" cy="566.40" r="1.70" fill="#fff" stroke="#1c1c1c" stroke-width="1.1"/>
<circle cx="90.90" cy="517.80" r="1.70" fill="#fff" stroke="#1c1c1c" stroke-width="1.1"/>
<circle cx="90.90" cy="566.40" r="1.70" fill="#fff" stroke="#1c1c1c" stroke-width="1.1"/>
<rect x="74.20" y="522.10" width="13.40" height="13.40" fill="#fff" stroke="#1c1c1c" stroke-width="1.3" />
<rect x="74.70" y="522.60" width="2.01" height="2.01" fill="#6a6a6a"/>
<rect x="74.70" y="532.99" width="2.01" height="2.01" fill="#6a6a6a"/>
<rect x="85.09" y="522.60" width="2.01" height="2.01" fill="#6a6a6a"/>
<rect x="85.09" y="532.99" width="2.01" height="2.01" fill="#6a6a6a"/>
<circle cx="80.90" cy="528.80" r="5.50" fill="#fff" stroke="#1c1c1c" stroke-width="1.1"/>
<rect x="74.20" y="544.10" width="13.40" height="13.40" fill="#fff" stroke="#1c1c1c" stroke-width="1.3" />
<rect x="74.70" y="544.60" width="2.01" height="2.01" fill="#6a6a6a"/>
<rect x="74.70" y="554.99" width="2.01" height="2.01" fill="#6a6a6a"/>
<rect x="85.09" y="544.60" width="2.01" height="2.01" fill="#6a6a6a"/>
<rect x="85.09" y="554.99" width="2.01" height="2.01" fill="#6a6a6a"/>
<circle cx="80.90" cy="550.80" r="5.50" fill="#fff" stroke="#1c1c1c" stroke-width="1.1"/>
<rect x="74.20" y="571.50" width="13.40" height="13.40" fill="#fff" stroke="#1c1c1c" stroke-width="1.3" />
<rect x="74.70" y="572.00" width="2.01" height="2.01" fill="#6a6a6a"/>
<rect x="74.70" y="582.39" width="2.01" height="2.01" fill="#6a6a6a"/>
<rect x="85.09" y="572.00" width="2.01" height="2.01" fill="#6a6a6a"/>
<rect x="85.09" y="582.39" width="2.01" height="2.01" fill="#6a6a6a"/>
<circle cx="80.90" cy="578.20" r="5.50" fill="#fff" stroke="#1c1c1c" stroke-width="1.1"/>
<line x1="123.80" y1="495.80" x2="123.80" y2="506.60" stroke="#1c1c1c" stroke-width="1.3" />
<line x1="166.30" y1="495.80" x2="166.30" y2="506.60" stroke="#1c1c1c" stroke-width="1.3" />
<line x1="123.80" y1="506.60" x2="166.30" y2="506.60" stroke="#1c1c1c" stroke-width="1.3" />
<line x1="140.00" y1="495.80" x2="140.00" y2="506.60" stroke="#1c1c1c" stroke-width="1.3" />
<line x1="134.10" y1="506.60" x2="134.10" y2="516.30" stroke="#1c1c1c" stroke-width="1.2" />
<line x1="143.60" y1="506.60" x2="143.60" y2="516.30" stroke="#1c1c1c" stroke-width="1.2" />
<line x1="153.10" y1="506.60" x2="153.10" y2="516.30" stroke="#1c1c1c" stroke-width="1.2" />
<rect x="129.45" y="514.30" width="27.70" height="71.60" fill="#fff" stroke="#1c1c1c" stroke-width="1.2" rx="0.8"/>
<circle cx="134.10" cy="517.80" r="1.70" fill="#fff" stroke="#1c1c1c" stroke-width="1.1"/>
<circle cx="134.10" cy="566.40" r="1.70" fill="#fff" stroke="#1c1c1c" stroke-width="1.1"/>
<circle cx="143.60" cy="517.80" r="1.70" fill="#fff" stroke="#1c1c1c" stroke-width="1.1"/>
<circle cx="143.60" cy="566.40" r="1.70" fill="#fff" stroke="#1c1c1c" stroke-width="1.1"/>
<circle cx="153.10" cy="517.80" r="1.70" fill="#fff" stroke="#1c1c1c" stroke-width="1.1"/>
<circle cx="153.10" cy="566.40" r="1.70" fill="#fff" stroke="#1c1c1c" stroke-width="1.1"/>
<rect x="136.40" y="522.10" width="13.40" height="13.40" fill="#fff" stroke="#1c1c1c" stroke-width="1.3" />
<rect x="136.90" y="522.60" width="2.01" height="2.01" fill="#6a6a6a"/>
<rect x="136.90" y="532.99" width="2.01" height="2.01" fill="#6a6a6a"/>
<rect x="147.29" y="522.60" width="2.01" height="2.01" fill="#6a6a6a"/>
<rect x="147.29" y="532.99" width="2.01" height="2.01" fill="#6a6a6a"/>
<circle cx="143.10" cy="528.80" r="5.50" fill="#fff" stroke="#1c1c1c" stroke-width="1.1"/>
<rect x="136.40" y="544.10" width="13.40" height="13.40" fill="#fff" stroke="#1c1c1c" stroke-width="1.3" />
<rect x="136.90" y="544.60" width="2.01" height="2.01" fill="#6a6a6a"/>
<rect x="136.90" y="554.99" width="2.01" height="2.01" fill="#6a6a6a"/>
<rect x="147.29" y="544.60" width="2.01" height="2.01" fill="#6a6a6a"/>
<rect x="147.29" y="554.99" width="2.01" height="2.01" fill="#6a6a6a"/>
<circle cx="143.10" cy="550.80" r="5.50" fill="#fff" stroke="#1c1c1c" stroke-width="1.1"/>
<rect x="136.40" y="571.50" width="13.40" height="13.40" fill="#fff" stroke="#1c1c1c" stroke-width="1.3" />
<rect x="136.90" y="572.00" width="2.01" height="2.01" fill="#6a6a6a"/>
<rect x="136.90" y="582.39" width="2.01" height="2.01" fill="#6a6a6a"/>
<rect x="147.29" y="572.00" width="2.01" height="2.01" fill="#6a6a6a"/>
<rect x="147.29" y="582.39" width="2.01" height="2.01" fill="#6a6a6a"/>
<circle cx="143.10" cy="578.20" r="5.50" fill="#fff" stroke="#1c1c1c" stroke-width="1.1"/>
<line x1="182.50" y1="495.80" x2="182.50" y2="506.60" stroke="#1c1c1c" stroke-width="1.3" />
<line x1="225.50" y1="495.80" x2="225.50" y2="506.60" stroke="#1c1c1c" stroke-width="1.3" />
<line x1="182.50" y1="506.60" x2="225.50" y2="506.60" stroke="#1c1c1c" stroke-width="1.3" />
<line x1="198.80" y1="495.80" x2="198.80" y2="506.60" stroke="#1c1c1c" stroke-width="1.3" />
<line x1="192.60" y1="506.60" x2="192.60" y2="516.30" stroke="#1c1c1c" stroke-width="1.2" />
<line x1="202.10" y1="506.60" x2="202.10" y2="516.30" stroke="#1c1c1c" stroke-width="1.2" />
<line x1="211.60" y1="506.60" x2="211.60" y2="516.30" stroke="#1c1c1c" stroke-width="1.2" />
<rect x="187.95" y="514.30" width="27.70" height="71.60" fill="#fff" stroke="#1c1c1c" stroke-width="1.2" rx="0.8"/>
<circle cx="192.60" cy="517.80" r="1.70" fill="#fff" stroke="#1c1c1c" stroke-width="1.1"/>
<circle cx="192.60" cy="566.40" r="1.70" fill="#fff" stroke="#1c1c1c" stroke-width="1.1"/>
<circle cx="202.10" cy="517.80" r="1.70" fill="#fff" stroke="#1c1c1c" stroke-width="1.1"/>
<circle cx="202.10" cy="566.40" r="1.70" fill="#fff" stroke="#1c1c1c" stroke-width="1.1"/>
<circle cx="211.60" cy="517.80" r="1.70" fill="#fff" stroke="#1c1c1c" stroke-width="1.1"/>
<circle cx="211.60" cy="566.40" r="1.70" fill="#fff" stroke="#1c1c1c" stroke-width="1.1"/>
<rect x="194.90" y="522.10" width="13.40" height="13.40" fill="#fff" stroke="#1c1c1c" stroke-width="1.3" />
<rect x="195.40" y="522.60" width="2.01" height="2.01" fill="#6a6a6a"/>
<rect x="195.40" y="532.99" width="2.01" height="2.01" fill="#6a6a6a"/>
<rect x="205.79" y="522.60" width="2.01" height="2.01" fill="#6a6a6a"/>
<rect x="205.79" y="532.99" width="2.01" height="2.01" fill="#6a6a6a"/>
<circle cx="201.60" cy="528.80" r="5.50" fill="#fff" stroke="#1c1c1c" stroke-width="1.1"/>
<rect x="194.90" y="544.10" width="13.40" height="13.40" fill="#fff" stroke="#1c1c1c" stroke-width="1.3" />
<rect x="195.40" y="544.60" width="2.01" height="2.01" fill="#6a6a6a"/>
<rect x="195.40" y="554.99" width="2.01" height="2.01" fill="#6a6a6a"/>
<rect x="205.79" y="544.60" width="2.01" height="2.01" fill="#6a6a6a"/>
<rect x="205.79" y="554.99" width="2.01" height="2.01" fill="#6a6a6a"/>
<circle cx="201.60" cy="550.80" r="5.50" fill="#fff" stroke="#1c1c1c" stroke-width="1.1"/>
<rect x="194.90" y="571.50" width="13.40" height="13.40" fill="#fff" stroke="#1c1c1c" stroke-width="1.3" />
<rect x="195.40" y="572.00" width="2.01" height="2.01" fill="#6a6a6a"/>
<rect x="195.40" y="582.39" width="2.01" height="2.01" fill="#6a6a6a"/>
<rect x="205.79" y="572.00" width="2.01" height="2.01" fill="#6a6a6a"/>
<rect x="205.79" y="582.39" width="2.01" height="2.01" fill="#6a6a6a"/>
<circle cx="201.60" cy="578.20" r="5.50" fill="#fff" stroke="#1c1c1c" stroke-width="1.1"/>
<line x1="242.50" y1="495.80" x2="242.50" y2="506.60" stroke="#1c1c1c" stroke-width="1.3" />
<line x1="285.00" y1="495.80" x2="285.00" y2="506.60" stroke="#1c1c1c" stroke-width="1.3" />
<line x1="242.50" y1="506.60" x2="285.00" y2="506.60" stroke="#1c1c1c" stroke-width="1.3" />
<line x1="258.80" y1="495.80" x2="258.80" y2="506.60" stroke="#1c1c1c" stroke-width="1.3" />
<line x1="253.30" y1="506.60" x2="253.30" y2="516.30" stroke="#1c1c1c" stroke-width="1.2" />
<line x1="262.80" y1="506.60" x2="262.80" y2="516.30" stroke="#1c1c1c" stroke-width="1.2" />
<line x1="272.30" y1="506.60" x2="272.30" y2="516.30" stroke="#1c1c1c" stroke-width="1.2" />
<rect x="248.65" y="514.30" width="27.70" height="71.60" fill="#fff" stroke="#1c1c1c" stroke-width="1.2" rx="0.8"/>
<circle cx="253.30" cy="517.80" r="1.70" fill="#fff" stroke="#1c1c1c" stroke-width="1.1"/>
<circle cx="253.30" cy="566.40" r="1.70" fill="#fff" stroke="#1c1c1c" stroke-width="1.1"/>
<circle cx="262.80" cy="517.80" r="1.70" fill="#fff" stroke="#1c1c1c" stroke-width="1.1"/>
<circle cx="262.80" cy="566.40" r="1.70" fill="#fff" stroke="#1c1c1c" stroke-width="1.1"/>
<circle cx="272.30" cy="517.80" r="1.70" fill="#fff" stroke="#1c1c1c" stroke-width="1.1"/>
<circle cx="272.30" cy="566.40" r="1.70" fill="#fff" stroke="#1c1c1c" stroke-width="1.1"/>
<rect x="255.60" y="522.10" width="13.40" height="13.40" fill="#fff" stroke="#1c1c1c" stroke-width="1.3" />
<rect x="256.10" y="522.60" width="2.01" height="2.01" fill="#6a6a6a"/>
<rect x="256.10" y="532.99" width="2.01" height="2.01" fill="#6a6a6a"/>
<rect x="266.49" y="522.60" width="2.01" height="2.01" fill="#6a6a6a"/>
<rect x="266.49" y="532.99" width="2.01" height="2.01" fill="#6a6a6a"/>
<circle cx="262.30" cy="528.80" r="5.50" fill="#fff" stroke="#1c1c1c" stroke-width="1.1"/>
<rect x="255.60" y="544.10" width="13.40" height="13.40" fill="#fff" stroke="#1c1c1c" stroke-width="1.3" />
<rect x="256.10" y="544.60" width="2.01" height="2.01" fill="#6a6a6a"/>
<rect x="256.10" y="554.99" width="2.01" height="2.01" fill="#6a6a6a"/>
<rect x="266.49" y="544.60" width="2.01" height="2.01" fill="#6a6a6a"/>
<rect x="266.49" y="554.99" width="2.01" height="2.01" fill="#6a6a6a"/>
<circle cx="262.30" cy="550.80" r="5.50" fill="#fff" stroke="#1c1c1c" stroke-width="1.1"/>
<rect x="255.60" y="571.50" width="13.40" height="13.40" fill="#fff" stroke="#1c1c1c" stroke-width="1.3" />
<rect x="256.10" y="572.00" width="2.01" height="2.01" fill="#6a6a6a"/>
<rect x="256.10" y="582.39" width="2.01" height="2.01" fill="#6a6a6a"/>
<rect x="266.49" y="572.00" width="2.01" height="2.01" fill="#6a6a6a"/>
<rect x="266.49" y="582.39" width="2.01" height="2.01" fill="#6a6a6a"/>
<circle cx="262.30" cy="578.20" r="5.50" fill="#fff" stroke="#1c1c1c" stroke-width="1.1"/>
<line x1="304.50" y1="495.80" x2="304.50" y2="506.60" stroke="#1c1c1c" stroke-width="1.3" />
<line x1="347.50" y1="495.80" x2="347.50" y2="506.60" stroke="#1c1c1c" stroke-width="1.3" />
<line x1="304.50" y1="506.60" x2="347.50" y2="506.60" stroke="#1c1c1c" stroke-width="1.3" />
<line x1="321.30" y1="495.80" x2="321.30" y2="506.60" stroke="#1c1c1c" stroke-width="1.3" />
<line x1="315.20" y1="506.60" x2="315.20" y2="516.30" stroke="#1c1c1c" stroke-width="1.2" />
<line x1="324.70" y1="506.60" x2="324.70" y2="516.30" stroke="#1c1c1c" stroke-width="1.2" />
<line x1="334.20" y1="506.60" x2="334.20" y2="516.30" stroke="#1c1c1c" stroke-width="1.2" />
<rect x="310.55" y="514.30" width="27.70" height="71.60" fill="#fff" stroke="#1c1c1c" stroke-width="1.2" rx="0.8"/>
<circle cx="315.20" cy="517.80" r="1.70" fill="#fff" stroke="#1c1c1c" stroke-width="1.1"/>
<circle cx="315.20" cy="566.40" r="1.70" fill="#fff" stroke="#1c1c1c" stroke-width="1.1"/>
<circle cx="324.70" cy="517.80" r="1.70" fill="#fff" stroke="#1c1c1c" stroke-width="1.1"/>
<circle cx="324.70" cy="566.40" r="1.70" fill="#fff" stroke="#1c1c1c" stroke-width="1.1"/>
<circle cx="334.20" cy="517.80" r="1.70" fill="#fff" stroke="#1c1c1c" stroke-width="1.1"/>
<circle cx="334.20" cy="566.40" r="1.70" fill="#fff" stroke="#1c1c1c" stroke-width="1.1"/>
<rect x="317.50" y="522.10" width="13.40" height="13.40" fill="#fff" stroke="#1c1c1c" stroke-width="1.3" />
<rect x="318.00" y="522.60" width="2.01" height="2.01" fill="#6a6a6a"/>
<rect x="318.00" y="532.99" width="2.01" height="2.01" fill="#6a6a6a"/>
<rect x="328.39" y="522.60" width="2.01" height="2.01" fill="#6a6a6a"/>
<rect x="328.39" y="532.99" width="2.01" height="2.01" fill="#6a6a6a"/>
<circle cx="324.20" cy="528.80" r="5.50" fill="#fff" stroke="#1c1c1c" stroke-width="1.1"/>
<rect x="317.50" y="544.10" width="13.40" height="13.40" fill="#fff" stroke="#1c1c1c" stroke-width="1.3" />
<rect x="318.00" y="544.60" width="2.01" height="2.01" fill="#6a6a6a"/>
<rect x="318.00" y="554.99" width="2.01" height="2.01" fill="#6a6a6a"/>
<rect x="328.39" y="544.60" width="2.01" height="2.01" fill="#6a6a6a"/>
<rect x="328.39" y="554.99" width="2.01" height="2.01" fill="#6a6a6a"/>
<circle cx="324.20" cy="550.80" r="5.50" fill="#fff" stroke="#1c1c1c" stroke-width="1.1"/>
<rect x="317.50" y="571.50" width="13.40" height="13.40" fill="#fff" stroke="#1c1c1c" stroke-width="1.3" />
<rect x="318.00" y="572.00" width="2.01" height="2.01" fill="#6a6a6a"/>
<rect x="318.00" y="582.39" width="2.01" height="2.01" fill="#6a6a6a"/>
<rect x="328.39" y="572.00" width="2.01" height="2.01" fill="#6a6a6a"/>
<rect x="328.39" y="582.39" width="2.01" height="2.01" fill="#6a6a6a"/>
<circle cx="324.20" cy="578.20" r="5.50" fill="#fff" stroke="#1c1c1c" stroke-width="1.1"/>
<g transform="translate(402.90 1.20)">
<rect x="13.40" y="334.60" width="366.90" height="146.90" fill="none" stroke="#1c1c1c" stroke-width="1.4" />
<rect x="57.00" y="320.40" width="54.60" height="14.20" fill="#fff" stroke="#1c1c1c" stroke-width="1.4" />
<circle cx="66.70" cy="328.30" r="3.90" fill="none" stroke="#1c1c1c" stroke-width="1.3"/>
<line x1="64.11" y1="325.38" x2="70.46" y2="329.35" stroke="#1c1c1c" stroke-width="1.1" />
<line x1="62.94" y1="327.25" x2="69.29" y2="331.22" stroke="#1c1c1c" stroke-width="1.1" />
<circle cx="78.90" cy="328.30" r="3.90" fill="none" stroke="#1c1c1c" stroke-width="1.3"/>
<line x1="75.14" y1="329.35" x2="81.49" y2="325.38" stroke="#1c1c1c" stroke-width="1.1" />
<line x1="76.31" y1="331.22" x2="82.66" y2="327.25" stroke="#1c1c1c" stroke-width="1.1" />
<circle cx="91.10" cy="328.30" r="3.90" fill="none" stroke="#1c1c1c" stroke-width="1.3"/>
<line x1="88.51" y1="325.38" x2="94.86" y2="329.35" stroke="#1c1c1c" stroke-width="1.1" />
<line x1="87.34" y1="327.25" x2="93.69" y2="331.22" stroke="#1c1c1c" stroke-width="1.1" />
<circle cx="103.80" cy="328.30" r="3.90" fill="none" stroke="#1c1c1c" stroke-width="1.3"/>
<line x1="100.04" y1="329.35" x2="106.39" y2="325.38" stroke="#1c1c1c" stroke-width="1.1" />
<line x1="101.21" y1="331.22" x2="107.56" y2="327.25" stroke="#1c1c1c" stroke-width="1.1" />
<rect x="57.00" y="337.90" width="54.60" height="11.90" fill="none" stroke="#1c1c1c" stroke-width="1.4" />
<line x1="70.65" y1="337.90" x2="70.65" y2="349.80" stroke="#1c1c1c" stroke-width="1.3" />
<line x1="84.30" y1="337.90" x2="84.30" y2="349.80" stroke="#1c1c1c" stroke-width="1.3" />
<line x1="97.95" y1="337.90" x2="97.95" y2="349.80" stroke="#1c1c1c" stroke-width="1.3" />
<text x="63.83" y="342.05" font-size="5.2" text-anchor="middle" font-weight="bold" fill="#2a2a2a" transform="rotate(180 63.83 342.05)" textLength="10.20" lengthAdjust="spacingAndGlyphs" >VCC</text>
<text x="77.47" y="342.05" font-size="5.2" text-anchor="middle" font-weight="bold" fill="#2a2a2a" transform="rotate(180 77.47 342.05)" textLength="12.30" lengthAdjust="spacingAndGlyphs" >DAT2</text>
<text x="91.12" y="342.05" font-size="5.2" text-anchor="middle" font-weight="bold" fill="#2a2a2a" transform="rotate(180 91.12 342.05)" textLength="12.30" lengthAdjust="spacingAndGlyphs" >DAT1</text>
<text x="104.78" y="342.05" font-size="5.2" text-anchor="middle" font-weight="bold" fill="#2a2a2a" transform="rotate(180 104.78 342.05)" textLength="10.60" lengthAdjust="spacingAndGlyphs" >GND</text>
<text x="84.60" y="352.70" font-size="8.2" text-anchor="middle" font-weight="normal" fill="#2a2a2a" transform="rotate(180 84.60 352.70)" textLength="22.60" lengthAdjust="spacing" stroke="#2a2a2a" stroke-width="0.2">OUT3</text>
<rect x="117.00" y="320.40" width="54.60" height="14.20" fill="#fff" stroke="#1c1c1c" stroke-width="1.4" />
<circle cx="126.70" cy="328.30" r="3.90" fill="none" stroke="#1c1c1c" stroke-width="1.3"/>
<line x1="124.11" y1="325.38" x2="130.46" y2="329.35" stroke="#1c1c1c" stroke-width="1.1" />
<line x1="122.94" y1="327.25" x2="129.29" y2="331.22" stroke="#1c1c1c" stroke-width="1.1" />
<circle cx="138.90" cy="328.30" r="3.90" fill="none" stroke="#1c1c1c" stroke-width="1.3"/>
<line x1="135.14" y1="329.35" x2="141.49" y2="325.38" stroke="#1c1c1c" stroke-width="1.1" />
<line x1="136.31" y1="331.22" x2="142.66" y2="327.25" stroke="#1c1c1c" stroke-width="1.1" />
<circle cx="151.10" cy="328.30" r="3.90" fill="none" stroke="#1c1c1c" stroke-width="1.3"/>
<line x1="148.51" y1="325.38" x2="154.86" y2="329.35" stroke="#1c1c1c" stroke-width="1.1" />
<line x1="147.34" y1="327.25" x2="153.69" y2="331.22" stroke="#1c1c1c" stroke-width="1.1" />
<circle cx="163.80" cy="328.30" r="3.90" fill="none" stroke="#1c1c1c" stroke-width="1.3"/>
<line x1="160.04" y1="329.35" x2="166.39" y2="325.38" stroke="#1c1c1c" stroke-width="1.1" />
<line x1="161.21" y1="331.22" x2="167.56" y2="327.25" stroke="#1c1c1c" stroke-width="1.1" />
<rect x="117.00" y="337.90" width="54.60" height="11.90" fill="none" stroke="#1c1c1c" stroke-width="1.4" />
<line x1="130.65" y1="337.90" x2="130.65" y2="349.80" stroke="#1c1c1c" stroke-width="1.3" />
<line x1="144.30" y1="337.90" x2="144.30" y2="349.80" stroke="#1c1c1c" stroke-width="1.3" />
<line x1="157.95" y1="337.90" x2="157.95" y2="349.80" stroke="#1c1c1c" stroke-width="1.3" />
<text x="123.83" y="342.05" font-size="5.2" text-anchor="middle" font-weight="bold" fill="#2a2a2a" transform="rotate(180 123.83 342.05)" textLength="10.20" lengthAdjust="spacingAndGlyphs" >VCC</text>
<text x="137.47" y="342.05" font-size="5.2" text-anchor="middle" font-weight="bold" fill="#2a2a2a" transform="rotate(180 137.47 342.05)" textLength="12.30" lengthAdjust="spacingAndGlyphs" >DAT2</text>
<text x="151.12" y="342.05" font-size="5.2" text-anchor="middle" font-weight="bold" fill="#2a2a2a" transform="rotate(180 151.12 342.05)" textLength="12.30" lengthAdjust="spacingAndGlyphs" >DAT1</text>
<text x="164.78" y="342.05" font-size="5.2" text-anchor="middle" font-weight="bold" fill="#2a2a2a" transform="rotate(180 164.78 342.05)" textLength="10.60" lengthAdjust="spacingAndGlyphs" >GND</text>
<text x="144.40" y="352.70" font-size="8.2" text-anchor="middle" font-weight="normal" fill="#2a2a2a" transform="rotate(180 144.40 352.70)" textLength="22.60" lengthAdjust="spacing" stroke="#2a2a2a" stroke-width="0.2">OUT2</text>
<rect x="177.10" y="320.40" width="54.60" height="14.20" fill="#fff" stroke="#1c1c1c" stroke-width="1.4" />
<circle cx="186.80" cy="328.30" r="3.90" fill="none" stroke="#1c1c1c" stroke-width="1.3"/>
<line x1="184.21" y1="325.38" x2="190.56" y2="329.35" stroke="#1c1c1c" stroke-width="1.1" />
<line x1="183.04" y1="327.25" x2="189.39" y2="331.22" stroke="#1c1c1c" stroke-width="1.1" />
<circle cx="199.00" cy="328.30" r="3.90" fill="none" stroke="#1c1c1c" stroke-width="1.3"/>
<line x1="195.24" y1="329.35" x2="201.59" y2="325.38" stroke="#1c1c1c" stroke-width="1.1" />
<line x1="196.41" y1="331.22" x2="202.76" y2="327.25" stroke="#1c1c1c" stroke-width="1.1" />
<circle cx="211.20" cy="328.30" r="3.90" fill="none" stroke="#1c1c1c" stroke-width="1.3"/>
<line x1="208.61" y1="325.38" x2="214.96" y2="329.35" stroke="#1c1c1c" stroke-width="1.1" />
<line x1="207.44" y1="327.25" x2="213.79" y2="331.22" stroke="#1c1c1c" stroke-width="1.1" />
<circle cx="223.90" cy="328.30" r="3.90" fill="none" stroke="#1c1c1c" stroke-width="1.3"/>
<line x1="220.14" y1="329.35" x2="226.49" y2="325.38" stroke="#1c1c1c" stroke-width="1.1" />
<line x1="221.31" y1="331.22" x2="227.66" y2="327.25" stroke="#1c1c1c" stroke-width="1.1" />
<rect x="177.10" y="337.90" width="54.60" height="11.90" fill="none" stroke="#1c1c1c" stroke-width="1.4" />
<line x1="190.75" y1="337.90" x2="190.75" y2="349.80" stroke="#1c1c1c" stroke-width="1.3" />
<line x1="204.40" y1="337.90" x2="204.40" y2="349.80" stroke="#1c1c1c" stroke-width="1.3" />
<line x1="218.05" y1="337.90" x2="218.05" y2="349.80" stroke="#1c1c1c" stroke-width="1.3" />
<text x="183.92" y="342.05" font-size="5.2" text-anchor="middle" font-weight="bold" fill="#2a2a2a" transform="rotate(180 183.92 342.05)" textLength="10.20" lengthAdjust="spacingAndGlyphs" >VCC</text>
<text x="197.57" y="342.05" font-size="5.2" text-anchor="middle" font-weight="bold" fill="#2a2a2a" transform="rotate(180 197.57 342.05)" textLength="12.30" lengthAdjust="spacingAndGlyphs" >DAT2</text>
<text x="211.22" y="342.05" font-size="5.2" text-anchor="middle" font-weight="bold" fill="#2a2a2a" transform="rotate(180 211.22 342.05)" textLength="12.30" lengthAdjust="spacingAndGlyphs" >DAT1</text>
<text x="224.88" y="342.05" font-size="5.2" text-anchor="middle" font-weight="bold" fill="#2a2a2a" transform="rotate(180 224.88 342.05)" textLength="10.60" lengthAdjust="spacingAndGlyphs" >GND</text>
<text x="204.30" y="352.70" font-size="8.2" text-anchor="middle" font-weight="normal" fill="#2a2a2a" transform="rotate(180 204.30 352.70)" textLength="22.60" lengthAdjust="spacing" stroke="#2a2a2a" stroke-width="0.2">OUT1</text>
<rect x="236.70" y="320.40" width="54.60" height="14.20" fill="#fff" stroke="#1c1c1c" stroke-width="1.4" />
<circle cx="246.40" cy="328.30" r="3.90" fill="none" stroke="#1c1c1c" stroke-width="1.3"/>
<line x1="243.81" y1="325.38" x2="250.16" y2="329.35" stroke="#1c1c1c" stroke-width="1.1" />
<line x1="242.64" y1="327.25" x2="248.99" y2="331.22" stroke="#1c1c1c" stroke-width="1.1" />
<circle cx="258.60" cy="328.30" r="3.90" fill="none" stroke="#1c1c1c" stroke-width="1.3"/>
<line x1="254.84" y1="329.35" x2="261.19" y2="325.38" stroke="#1c1c1c" stroke-width="1.1" />
<line x1="256.01" y1="331.22" x2="262.36" y2="327.25" stroke="#1c1c1c" stroke-width="1.1" />
<circle cx="270.80" cy="328.30" r="3.90" fill="none" stroke="#1c1c1c" stroke-width="1.3"/>
<line x1="268.21" y1="325.38" x2="274.56" y2="329.35" stroke="#1c1c1c" stroke-width="1.1" />
<line x1="267.04" y1="327.25" x2="273.39" y2="331.22" stroke="#1c1c1c" stroke-width="1.1" />
<circle cx="283.50" cy="328.30" r="3.90" fill="none" stroke="#1c1c1c" stroke-width="1.3"/>
<line x1="279.74" y1="329.35" x2="286.09" y2="325.38" stroke="#1c1c1c" stroke-width="1.1" />
<line x1="280.91" y1="331.22" x2="287.26" y2="327.25" stroke="#1c1c1c" stroke-width="1.1" />
<rect x="236.70" y="337.90" width="54.60" height="11.90" fill="none" stroke="#1c1c1c" stroke-width="1.4" />
<line x1="250.35" y1="337.90" x2="250.35" y2="349.80" stroke="#1c1c1c" stroke-width="1.3" />
<line x1="264.00" y1="337.90" x2="264.00" y2="349.80" stroke="#1c1c1c" stroke-width="1.3" />
<line x1="277.65" y1="337.90" x2="277.65" y2="349.80" stroke="#1c1c1c" stroke-width="1.3" />
<text x="243.52" y="342.05" font-size="5.2" text-anchor="middle" font-weight="bold" fill="#2a2a2a" transform="rotate(180 243.52 342.05)" textLength="10.20" lengthAdjust="spacingAndGlyphs" >VCC</text>
<text x="257.18" y="342.05" font-size="5.2" text-anchor="middle" font-weight="bold" fill="#2a2a2a" transform="rotate(180 257.18 342.05)" textLength="12.30" lengthAdjust="spacingAndGlyphs" >DAT2</text>
<text x="270.82" y="342.05" font-size="5.2" text-anchor="middle" font-weight="bold" fill="#2a2a2a" transform="rotate(180 270.82 342.05)" textLength="12.30" lengthAdjust="spacingAndGlyphs" >DAT1</text>
<text x="284.47" y="342.05" font-size="5.2" text-anchor="middle" font-weight="bold" fill="#2a2a2a" transform="rotate(180 284.47 342.05)" textLength="10.60" lengthAdjust="spacingAndGlyphs" >GND</text>
<text x="264.00" y="352.70" font-size="8.2" text-anchor="middle" font-weight="normal" fill="#2a2a2a" transform="rotate(180 264.00 352.70)" textLength="41.40" lengthAdjust="spacing" stroke="#2a2a2a" stroke-width="0.2">SIGNAL IN</text>
<rect x="57.00" y="467.00" width="54.60" height="11.80" fill="none" stroke="#1c1c1c" stroke-width="1.4" />
<line x1="70.65" y1="467.00" x2="70.65" y2="478.80" stroke="#1c1c1c" stroke-width="1.3" />
<line x1="84.30" y1="467.00" x2="84.30" y2="478.80" stroke="#1c1c1c" stroke-width="1.3" />
<line x1="97.95" y1="467.00" x2="97.95" y2="478.80" stroke="#1c1c1c" stroke-width="1.3" />
<text x="63.83" y="474.80" font-size="5.2" text-anchor="middle" font-weight="bold" fill="#2a2a2a" textLength="10.60" lengthAdjust="spacingAndGlyphs" >GND</text>
<text x="77.47" y="474.80" font-size="5.2" text-anchor="middle" font-weight="bold" fill="#2a2a2a" textLength="12.30" lengthAdjust="spacingAndGlyphs" >DAT1</text>
<text x="91.12" y="474.80" font-size="5.2" text-anchor="middle" font-weight="bold" fill="#2a2a2a" textLength="12.30" lengthAdjust="spacingAndGlyphs" >DAT2</text>
<text x="104.78" y="474.80" font-size="5.2" text-anchor="middle" font-weight="bold" fill="#2a2a2a" textLength="10.20" lengthAdjust="spacingAndGlyphs" >VCC</text>
<rect x="57.00" y="481.50" width="54.60" height="14.30" fill="#fff" stroke="#1c1c1c" stroke-width="1.4" />
<circle cx="65.80" cy="488.85" r="3.90" fill="none" stroke="#1c1c1c" stroke-width="1.3"/>
<line x1="63.21" y1="485.93" x2="69.56" y2="489.90" stroke="#1c1c1c" stroke-width="1.1" />
<line x1="62.04" y1="487.80" x2="68.39" y2="491.77" stroke="#1c1c1c" stroke-width="1.1" />
<circle cx="78.00" cy="488.85" r="3.90" fill="none" stroke="#1c1c1c" stroke-width="1.3"/>
<line x1="74.24" y1="489.90" x2="80.59" y2="485.93" stroke="#1c1c1c" stroke-width="1.1" />
<line x1="75.41" y1="491.77" x2="81.76" y2="487.80" stroke="#1c1c1c" stroke-width="1.1" />
<circle cx="90.20" cy="488.85" r="3.90" fill="none" stroke="#1c1c1c" stroke-width="1.3"/>
<line x1="87.61" y1="485.93" x2="93.96" y2="489.90" stroke="#1c1c1c" stroke-width="1.1" />
<line x1="86.44" y1="487.80" x2="92.79" y2="491.77" stroke="#1c1c1c" stroke-width="1.1" />
<circle cx="102.90" cy="488.85" r="3.90" fill="none" stroke="#1c1c1c" stroke-width="1.3"/>
<line x1="99.14" y1="489.90" x2="105.49" y2="485.93" stroke="#1c1c1c" stroke-width="1.1" />
<line x1="100.31" y1="491.77" x2="106.66" y2="487.80" stroke="#1c1c1c" stroke-width="1.1" />
<text x="84.20" y="464.60" font-size="8.2" text-anchor="middle" font-weight="normal" fill="#2a2a2a" textLength="22.60" lengthAdjust="spacing" stroke="#2a2a2a" stroke-width="0.2">OUT4</text>
<rect x="117.00" y="467.00" width="54.60" height="11.80" fill="none" stroke="#1c1c1c" stroke-width="1.4" />
<line x1="130.65" y1="467.00" x2="130.65" y2="478.80" stroke="#1c1c1c" stroke-width="1.3" />
<line x1="144.30" y1="467.00" x2="144.30" y2="478.80" stroke="#1c1c1c" stroke-width="1.3" />
<line x1="157.95" y1="467.00" x2="157.95" y2="478.80" stroke="#1c1c1c" stroke-width="1.3" />
<text x="123.83" y="474.80" font-size="5.2" text-anchor="middle" font-weight="bold" fill="#2a2a2a" textLength="10.60" lengthAdjust="spacingAndGlyphs" >GND</text>
<text x="137.47" y="474.80" font-size="5.2" text-anchor="middle" font-weight="bold" fill="#2a2a2a" textLength="12.30" lengthAdjust="spacingAndGlyphs" >DAT1</text>
<text x="151.12" y="474.80" font-size="5.2" text-anchor="middle" font-weight="bold" fill="#2a2a2a" textLength="12.30" lengthAdjust="spacingAndGlyphs" >DAT2</text>
<text x="164.78" y="474.80" font-size="5.2" text-anchor="middle" font-weight="bold" fill="#2a2a2a" textLength="10.20" lengthAdjust="spacingAndGlyphs" >VCC</text>
<rect x="117.00" y="481.50" width="54.60" height="14.30" fill="#fff" stroke="#1c1c1c" stroke-width="1.4" />
<circle cx="125.80" cy="488.85" r="3.90" fill="none" stroke="#1c1c1c" stroke-width="1.3"/>
<line x1="123.21" y1="485.93" x2="129.56" y2="489.90" stroke="#1c1c1c" stroke-width="1.1" />
<line x1="122.04" y1="487.80" x2="128.39" y2="491.77" stroke="#1c1c1c" stroke-width="1.1" />
<circle cx="138.00" cy="488.85" r="3.90" fill="none" stroke="#1c1c1c" stroke-width="1.3"/>
<line x1="134.24" y1="489.90" x2="140.59" y2="485.93" stroke="#1c1c1c" stroke-width="1.1" />
<line x1="135.41" y1="491.77" x2="141.76" y2="487.80" stroke="#1c1c1c" stroke-width="1.1" />
<circle cx="150.20" cy="488.85" r="3.90" fill="none" stroke="#1c1c1c" stroke-width="1.3"/>
<line x1="147.61" y1="485.93" x2="153.96" y2="489.90" stroke="#1c1c1c" stroke-width="1.1" />
<line x1="146.44" y1="487.80" x2="152.79" y2="491.77" stroke="#1c1c1c" stroke-width="1.1" />
<circle cx="162.90" cy="488.85" r="3.90" fill="none" stroke="#1c1c1c" stroke-width="1.3"/>
<line x1="159.14" y1="489.90" x2="165.49" y2="485.93" stroke="#1c1c1c" stroke-width="1.1" />
<line x1="160.31" y1="491.77" x2="166.66" y2="487.80" stroke="#1c1c1c" stroke-width="1.1" />
<text x="145.90" y="464.60" font-size="8.2" text-anchor="middle" font-weight="normal" fill="#2a2a2a" textLength="22.60" lengthAdjust="spacing" stroke="#2a2a2a" stroke-width="0.2">OUT5</text>
<rect x="176.40" y="467.00" width="54.60" height="11.80" fill="none" stroke="#1c1c1c" stroke-width="1.4" />
<line x1="190.05" y1="467.00" x2="190.05" y2="478.80" stroke="#1c1c1c" stroke-width="1.3" />
<line x1="203.70" y1="467.00" x2="203.70" y2="478.80" stroke="#1c1c1c" stroke-width="1.3" />
<line x1="217.35" y1="467.00" x2="217.35" y2="478.80" stroke="#1c1c1c" stroke-width="1.3" />
<text x="183.22" y="474.80" font-size="5.2" text-anchor="middle" font-weight="bold" fill="#2a2a2a" textLength="10.60" lengthAdjust="spacingAndGlyphs" >GND</text>
<text x="196.88" y="474.80" font-size="5.2" text-anchor="middle" font-weight="bold" fill="#2a2a2a" textLength="12.30" lengthAdjust="spacingAndGlyphs" >DAT1</text>
<text x="210.53" y="474.80" font-size="5.2" text-anchor="middle" font-weight="bold" fill="#2a2a2a" textLength="12.30" lengthAdjust="spacingAndGlyphs" >DAT2</text>
<text x="224.18" y="474.80" font-size="5.2" text-anchor="middle" font-weight="bold" fill="#2a2a2a" textLength="10.20" lengthAdjust="spacingAndGlyphs" >VCC</text>
<rect x="176.40" y="481.50" width="54.60" height="14.30" fill="#fff" stroke="#1c1c1c" stroke-width="1.4" />
<circle cx="185.20" cy="488.85" r="3.90" fill="none" stroke="#1c1c1c" stroke-width="1.3"/>
<line x1="182.61" y1="485.93" x2="188.96" y2="489.90" stroke="#1c1c1c" stroke-width="1.1" />
<line x1="181.44" y1="487.80" x2="187.79" y2="491.77" stroke="#1c1c1c" stroke-width="1.1" />
<circle cx="197.40" cy="488.85" r="3.90" fill="none" stroke="#1c1c1c" stroke-width="1.3"/>
<line x1="193.64" y1="489.90" x2="199.99" y2="485.93" stroke="#1c1c1c" stroke-width="1.1" />
<line x1="194.81" y1="491.77" x2="201.16" y2="487.80" stroke="#1c1c1c" stroke-width="1.1" />
<circle cx="209.60" cy="488.85" r="3.90" fill="none" stroke="#1c1c1c" stroke-width="1.3"/>
<line x1="207.01" y1="485.93" x2="213.36" y2="489.90" stroke="#1c1c1c" stroke-width="1.1" />
<line x1="205.84" y1="487.80" x2="212.19" y2="491.77" stroke="#1c1c1c" stroke-width="1.1" />
<circle cx="222.30" cy="488.85" r="3.90" fill="none" stroke="#1c1c1c" stroke-width="1.3"/>
<line x1="218.54" y1="489.90" x2="224.89" y2="485.93" stroke="#1c1c1c" stroke-width="1.1" />
<line x1="219.71" y1="491.77" x2="226.06" y2="487.80" stroke="#1c1c1c" stroke-width="1.1" />
<text x="203.70" y="464.60" font-size="8.2" text-anchor="middle" font-weight="normal" fill="#2a2a2a" textLength="22.60" lengthAdjust="spacing" stroke="#2a2a2a" stroke-width="0.2">OUT6</text>
<rect x="236.40" y="467.00" width="54.60" height="11.80" fill="none" stroke="#1c1c1c" stroke-width="1.4" />
<line x1="250.05" y1="467.00" x2="250.05" y2="478.80" stroke="#1c1c1c" stroke-width="1.3" />
<line x1="263.70" y1="467.00" x2="263.70" y2="478.80" stroke="#1c1c1c" stroke-width="1.3" />
<line x1="277.35" y1="467.00" x2="277.35" y2="478.80" stroke="#1c1c1c" stroke-width="1.3" />
<text x="243.22" y="474.80" font-size="5.2" text-anchor="middle" font-weight="bold" fill="#2a2a2a" textLength="10.60" lengthAdjust="spacingAndGlyphs" >GND</text>
<text x="256.88" y="474.80" font-size="5.2" text-anchor="middle" font-weight="bold" fill="#2a2a2a" textLength="12.30" lengthAdjust="spacingAndGlyphs" >DAT1</text>
<text x="270.52" y="474.80" font-size="5.2" text-anchor="middle" font-weight="bold" fill="#2a2a2a" textLength="12.30" lengthAdjust="spacingAndGlyphs" >DAT2</text>
<text x="284.18" y="474.80" font-size="5.2" text-anchor="middle" font-weight="bold" fill="#2a2a2a" textLength="10.20" lengthAdjust="spacingAndGlyphs" >VCC</text>
<rect x="236.40" y="481.50" width="54.60" height="14.30" fill="#fff" stroke="#1c1c1c" stroke-width="1.4" />
<circle cx="245.20" cy="488.85" r="3.90" fill="none" stroke="#1c1c1c" stroke-width="1.3"/>
<line x1="242.61" y1="485.93" x2="248.96" y2="489.90" stroke="#1c1c1c" stroke-width="1.1" />
<line x1="241.44" y1="487.80" x2="247.79" y2="491.77" stroke="#1c1c1c" stroke-width="1.1" />
<circle cx="257.40" cy="488.85" r="3.90" fill="none" stroke="#1c1c1c" stroke-width="1.3"/>
<line x1="253.64" y1="489.90" x2="259.99" y2="485.93" stroke="#1c1c1c" stroke-width="1.1" />
<line x1="254.81" y1="491.77" x2="261.16" y2="487.80" stroke="#1c1c1c" stroke-width="1.1" />
<circle cx="269.60" cy="488.85" r="3.90" fill="none" stroke="#1c1c1c" stroke-width="1.3"/>
<line x1="267.01" y1="485.93" x2="273.36" y2="489.90" stroke="#1c1c1c" stroke-width="1.1" />
<line x1="265.84" y1="487.80" x2="272.19" y2="491.77" stroke="#1c1c1c" stroke-width="1.1" />
<circle cx="282.30" cy="488.85" r="3.90" fill="none" stroke="#1c1c1c" stroke-width="1.3"/>
<line x1="278.54" y1="489.90" x2="284.89" y2="485.93" stroke="#1c1c1c" stroke-width="1.1" />
<line x1="279.71" y1="491.77" x2="286.06" y2="487.80" stroke="#1c1c1c" stroke-width="1.1" />
<text x="263.90" y="464.60" font-size="8.2" text-anchor="middle" font-weight="normal" fill="#2a2a2a" textLength="22.60" lengthAdjust="spacing" stroke="#2a2a2a" stroke-width="0.2">OUT7</text>
<rect x="296.40" y="467.00" width="54.60" height="11.80" fill="none" stroke="#1c1c1c" stroke-width="1.4" />
<line x1="310.05" y1="467.00" x2="310.05" y2="478.80" stroke="#1c1c1c" stroke-width="1.3" />
<line x1="323.70" y1="467.00" x2="323.70" y2="478.80" stroke="#1c1c1c" stroke-width="1.3" />
<line x1="337.35" y1="467.00" x2="337.35" y2="478.80" stroke="#1c1c1c" stroke-width="1.3" />
<text x="303.22" y="474.80" font-size="5.2" text-anchor="middle" font-weight="bold" fill="#2a2a2a" textLength="10.60" lengthAdjust="spacingAndGlyphs" >GND</text>
<text x="316.88" y="474.80" font-size="5.2" text-anchor="middle" font-weight="bold" fill="#2a2a2a" textLength="12.30" lengthAdjust="spacingAndGlyphs" >DAT1</text>
<text x="330.52" y="474.80" font-size="5.2" text-anchor="middle" font-weight="bold" fill="#2a2a2a" textLength="12.30" lengthAdjust="spacingAndGlyphs" >DAT2</text>
<text x="344.17" y="474.80" font-size="5.2" text-anchor="middle" font-weight="bold" fill="#2a2a2a" textLength="10.20" lengthAdjust="spacingAndGlyphs" >VCC</text>
<rect x="296.40" y="481.50" width="54.60" height="14.30" fill="#fff" stroke="#1c1c1c" stroke-width="1.4" />
<circle cx="305.20" cy="488.85" r="3.90" fill="none" stroke="#1c1c1c" stroke-width="1.3"/>
<line x1="302.61" y1="485.93" x2="308.96" y2="489.90" stroke="#1c1c1c" stroke-width="1.1" />
<line x1="301.44" y1="487.80" x2="307.79" y2="491.77" stroke="#1c1c1c" stroke-width="1.1" />
<circle cx="317.40" cy="488.85" r="3.90" fill="none" stroke="#1c1c1c" stroke-width="1.3"/>
<line x1="313.64" y1="489.90" x2="319.99" y2="485.93" stroke="#1c1c1c" stroke-width="1.1" />
<line x1="314.81" y1="491.77" x2="321.16" y2="487.80" stroke="#1c1c1c" stroke-width="1.1" />
<circle cx="329.60" cy="488.85" r="3.90" fill="none" stroke="#1c1c1c" stroke-width="1.3"/>
<line x1="327.01" y1="485.93" x2="333.36" y2="489.90" stroke="#1c1c1c" stroke-width="1.1" />
<line x1="325.84" y1="487.80" x2="332.19" y2="491.77" stroke="#1c1c1c" stroke-width="1.1" />
<circle cx="342.30" cy="488.85" r="3.90" fill="none" stroke="#1c1c1c" stroke-width="1.3"/>
<line x1="338.54" y1="489.90" x2="344.89" y2="485.93" stroke="#1c1c1c" stroke-width="1.1" />
<line x1="339.71" y1="491.77" x2="346.06" y2="487.80" stroke="#1c1c1c" stroke-width="1.1" />
<text x="323.40" y="464.60" font-size="8.2" text-anchor="middle" font-weight="normal" fill="#2a2a2a" textLength="22.60" lengthAdjust="spacing" stroke="#2a2a2a" stroke-width="0.2">OUT8</text>
<rect x="296.60" y="334.60" width="59.90" height="48.80" fill="#fff" stroke="#3a3a3a" stroke-width="1.3" />
<rect x="299.40" y="334.60" width="25.60" height="46.00" fill="#fff" stroke="#1c1c1c" stroke-width="1.5" />
<rect x="327.60" y="334.60" width="25.90" height="46.00" fill="#fff" stroke="#1c1c1c" stroke-width="1.5" />
<circle cx="311.90" cy="357.60" r="6.00" fill="none" stroke="#1c1c1c" stroke-width="1.3"/>
<line x1="309.08" y1="352.30" x2="314.72" y2="362.90" stroke="#1c1c1c" stroke-width="1.1" />
<line x1="306.60" y1="360.42" x2="317.20" y2="354.78" stroke="#1c1c1c" stroke-width="1.1" />
<circle cx="341.90" cy="357.00" r="6.00" fill="none" stroke="#1c1c1c" stroke-width="1.3"/>
<line x1="339.08" y1="351.70" x2="344.72" y2="362.30" stroke="#1c1c1c" stroke-width="1.1" />
<line x1="336.60" y1="359.82" x2="347.20" y2="354.18" stroke="#1c1c1c" stroke-width="1.1" />
<rect x="296.60" y="385.70" width="59.90" height="12.40" fill="none" stroke="#1c1c1c" stroke-width="1.2" />
<line x1="326.30" y1="385.70" x2="326.30" y2="398.10" stroke="#1c1c1c" stroke-width="1.3" />
<text x="311.90" y="390.10" font-size="5.2" text-anchor="middle" font-weight="bold" fill="#2a2a2a" transform="rotate(180 311.90 390.10)" textLength="11.00" lengthAdjust="spacingAndGlyphs" >GND</text>
<text x="341.90" y="390.10" font-size="5.2" text-anchor="middle" font-weight="bold" fill="#2a2a2a" transform="rotate(180 341.90 390.10)" textLength="10.60" lengthAdjust="spacingAndGlyphs" >VCC</text>
<text x="327.50" y="401.00" font-size="8.2" text-anchor="middle" font-weight="normal" fill="#222" transform="rotate(180 327.50 401.00)" textLength="29.50" lengthAdjust="spacingAndGlyphs" >POWER</text>
<text transform="translate(57.40 397.30) scale(1.03 1)" x="0" y="0" font-size="22.6" text-anchor="start" font-weight="normal" fill="#111" textLength="88.25" lengthAdjust="spacing" stroke="#111" stroke-width="0.3">SIGNAL</text>
<text transform="translate(152.90 397.30) scale(1.0001 1)" x="0" y="0" font-size="22.6" text-anchor="start" font-weight="normal" fill="#111" textLength="132.59" lengthAdjust="spacing" stroke="#111" stroke-width="0.3">AMPLIFIER</text>
<text transform="translate(60.90 415.90) scale(1.06 1)" x="0" y="0" font-size="10.4" text-anchor="start" font-weight="normal" fill="#262626" textLength="112.64" lengthAdjust="spacing" stroke="#262626" stroke-width="0.3">Input Voltage:DC5-24V</text>
<text transform="translate(61.30 429.00) scale(1.06 1)" x="0" y="0" font-size="10.4" text-anchor="start" font-weight="normal" fill="#262626" textLength="74.91" lengthAdjust="spacing" stroke="#262626" stroke-width="0.3">Output :5V&#160; TTL</text>
<text transform="translate(61.30 442.60) scale(1.06 1)" x="0" y="0" font-size="10.4" text-anchor="start" font-weight="normal" fill="#262626" textLength="88.49" lengthAdjust="spacing" stroke="#262626" stroke-width="0.3">Consumption:&lt;1W</text>
<text x="20.10" y="357.40" font-size="7.3" text-anchor="start" font-weight="normal" fill="#444" textLength="20.30" lengthAdjust="spacingAndGlyphs" >AHC8</text>
<line x1="30.60" y1="352.00" x2="29.90" y2="353.60" stroke="#444" stroke-width="0.6" />
</g>
<line x1="466.30" y1="497.00" x2="466.30" y2="507.90" stroke="#1c1c1c" stroke-width="1.3" />
<line x1="508.70" y1="497.00" x2="508.70" y2="507.90" stroke="#1c1c1c" stroke-width="1.3" />
<line x1="466.30" y1="507.90" x2="508.70" y2="507.90" stroke="#1c1c1c" stroke-width="1.3" />
<line x1="482.50" y1="497.00" x2="482.50" y2="507.90" stroke="#1c1c1c" stroke-width="1.3" />
<line x1="477.30" y1="507.90" x2="477.30" y2="517.60" stroke="#1c1c1c" stroke-width="1.2" />
<line x1="486.80" y1="507.90" x2="486.80" y2="517.60" stroke="#1c1c1c" stroke-width="1.2" />
<line x1="496.30" y1="507.90" x2="496.30" y2="517.60" stroke="#1c1c1c" stroke-width="1.2" />
<rect x="472.65" y="515.60" width="27.70" height="71.60" fill="#fff" stroke="#1c1c1c" stroke-width="1.2" rx="0.8"/>
<circle cx="477.30" cy="519.10" r="1.70" fill="#fff" stroke="#1c1c1c" stroke-width="1.1"/>
<circle cx="477.30" cy="567.70" r="1.70" fill="#fff" stroke="#1c1c1c" stroke-width="1.1"/>
<circle cx="486.80" cy="519.10" r="1.70" fill="#fff" stroke="#1c1c1c" stroke-width="1.1"/>
<circle cx="486.80" cy="567.70" r="1.70" fill="#fff" stroke="#1c1c1c" stroke-width="1.1"/>
<circle cx="496.30" cy="519.10" r="1.70" fill="#fff" stroke="#1c1c1c" stroke-width="1.1"/>
<circle cx="496.30" cy="567.70" r="1.70" fill="#fff" stroke="#1c1c1c" stroke-width="1.1"/>
<rect x="479.60" y="523.40" width="13.40" height="13.40" fill="#fff" stroke="#1c1c1c" stroke-width="1.3" />
<rect x="480.10" y="523.90" width="2.01" height="2.01" fill="#6a6a6a"/>
<rect x="480.10" y="534.29" width="2.01" height="2.01" fill="#6a6a6a"/>
<rect x="490.49" y="523.90" width="2.01" height="2.01" fill="#6a6a6a"/>
<rect x="490.49" y="534.29" width="2.01" height="2.01" fill="#6a6a6a"/>
<circle cx="486.30" cy="530.10" r="5.50" fill="#fff" stroke="#1c1c1c" stroke-width="1.1"/>
<rect x="479.60" y="545.40" width="13.40" height="13.40" fill="#fff" stroke="#1c1c1c" stroke-width="1.3" />
<rect x="480.10" y="545.90" width="2.01" height="2.01" fill="#6a6a6a"/>
<rect x="480.10" y="556.29" width="2.01" height="2.01" fill="#6a6a6a"/>
<rect x="490.49" y="545.90" width="2.01" height="2.01" fill="#6a6a6a"/>
<rect x="490.49" y="556.29" width="2.01" height="2.01" fill="#6a6a6a"/>
<circle cx="486.30" cy="552.10" r="5.50" fill="#fff" stroke="#1c1c1c" stroke-width="1.1"/>
<rect x="479.60" y="572.80" width="13.40" height="13.40" fill="#fff" stroke="#1c1c1c" stroke-width="1.3" />
<rect x="480.10" y="573.30" width="2.01" height="2.01" fill="#6a6a6a"/>
<rect x="480.10" y="583.69" width="2.01" height="2.01" fill="#6a6a6a"/>
<rect x="490.49" y="573.30" width="2.01" height="2.01" fill="#6a6a6a"/>
<rect x="490.49" y="583.69" width="2.01" height="2.01" fill="#6a6a6a"/>
<circle cx="486.30" cy="579.50" r="5.50" fill="#fff" stroke="#1c1c1c" stroke-width="1.1"/>
<line x1="526.30" y1="497.00" x2="526.30" y2="507.90" stroke="#1c1c1c" stroke-width="1.3" />
<line x1="569.50" y1="497.00" x2="569.50" y2="507.90" stroke="#1c1c1c" stroke-width="1.3" />
<line x1="526.30" y1="507.90" x2="569.50" y2="507.90" stroke="#1c1c1c" stroke-width="1.3" />
<line x1="542.50" y1="497.00" x2="542.50" y2="507.90" stroke="#1c1c1c" stroke-width="1.3" />
<line x1="536.60" y1="507.90" x2="536.60" y2="517.60" stroke="#1c1c1c" stroke-width="1.2" />
<line x1="546.10" y1="507.90" x2="546.10" y2="517.60" stroke="#1c1c1c" stroke-width="1.2" />
<line x1="555.60" y1="507.90" x2="555.60" y2="517.60" stroke="#1c1c1c" stroke-width="1.2" />
<rect x="531.95" y="515.60" width="27.70" height="71.60" fill="#fff" stroke="#1c1c1c" stroke-width="1.2" rx="0.8"/>
<circle cx="536.60" cy="519.10" r="1.70" fill="#fff" stroke="#1c1c1c" stroke-width="1.1"/>
<circle cx="536.60" cy="567.70" r="1.70" fill="#fff" stroke="#1c1c1c" stroke-width="1.1"/>
<circle cx="546.10" cy="519.10" r="1.70" fill="#fff" stroke="#1c1c1c" stroke-width="1.1"/>
<circle cx="546.10" cy="567.70" r="1.70" fill="#fff" stroke="#1c1c1c" stroke-width="1.1"/>
<circle cx="555.60" cy="519.10" r="1.70" fill="#fff" stroke="#1c1c1c" stroke-width="1.1"/>
<circle cx="555.60" cy="567.70" r="1.70" fill="#fff" stroke="#1c1c1c" stroke-width="1.1"/>
<rect x="538.90" y="523.40" width="13.40" height="13.40" fill="#fff" stroke="#1c1c1c" stroke-width="1.3" />
<rect x="539.40" y="523.90" width="2.01" height="2.01" fill="#6a6a6a"/>
<rect x="539.40" y="534.29" width="2.01" height="2.01" fill="#6a6a6a"/>
<rect x="549.79" y="523.90" width="2.01" height="2.01" fill="#6a6a6a"/>
<rect x="549.79" y="534.29" width="2.01" height="2.01" fill="#6a6a6a"/>
<circle cx="545.60" cy="530.10" r="5.50" fill="#fff" stroke="#1c1c1c" stroke-width="1.1"/>
<rect x="538.90" y="545.40" width="13.40" height="13.40" fill="#fff" stroke="#1c1c1c" stroke-width="1.3" />
<rect x="539.40" y="545.90" width="2.01" height="2.01" fill="#6a6a6a"/>
<rect x="539.40" y="556.29" width="2.01" height="2.01" fill="#6a6a6a"/>
<rect x="549.79" y="545.90" width="2.01" height="2.01" fill="#6a6a6a"/>
<rect x="549.79" y="556.29" width="2.01" height="2.01" fill="#6a6a6a"/>
<circle cx="545.60" cy="552.10" r="5.50" fill="#fff" stroke="#1c1c1c" stroke-width="1.1"/>
<rect x="538.90" y="572.80" width="13.40" height="13.40" fill="#fff" stroke="#1c1c1c" stroke-width="1.3" />
<rect x="539.40" y="573.30" width="2.01" height="2.01" fill="#6a6a6a"/>
<rect x="539.40" y="583.69" width="2.01" height="2.01" fill="#6a6a6a"/>
<rect x="549.79" y="573.30" width="2.01" height="2.01" fill="#6a6a6a"/>
<rect x="549.79" y="583.69" width="2.01" height="2.01" fill="#6a6a6a"/>
<circle cx="545.60" cy="579.50" r="5.50" fill="#fff" stroke="#1c1c1c" stroke-width="1.1"/>
<line x1="585.80" y1="497.00" x2="585.80" y2="507.90" stroke="#1c1c1c" stroke-width="1.3" />
<line x1="628.70" y1="497.00" x2="628.70" y2="507.90" stroke="#1c1c1c" stroke-width="1.3" />
<line x1="585.80" y1="507.90" x2="628.70" y2="507.90" stroke="#1c1c1c" stroke-width="1.3" />
<line x1="601.30" y1="497.00" x2="601.30" y2="507.90" stroke="#1c1c1c" stroke-width="1.3" />
<line x1="595.80" y1="507.90" x2="595.80" y2="517.60" stroke="#1c1c1c" stroke-width="1.2" />
<line x1="605.30" y1="507.90" x2="605.30" y2="517.60" stroke="#1c1c1c" stroke-width="1.2" />
<line x1="614.80" y1="507.90" x2="614.80" y2="517.60" stroke="#1c1c1c" stroke-width="1.2" />
<rect x="591.15" y="515.60" width="27.70" height="71.60" fill="#fff" stroke="#1c1c1c" stroke-width="1.2" rx="0.8"/>
<circle cx="595.80" cy="519.10" r="1.70" fill="#fff" stroke="#1c1c1c" stroke-width="1.1"/>
<circle cx="595.80" cy="567.70" r="1.70" fill="#fff" stroke="#1c1c1c" stroke-width="1.1"/>
<circle cx="605.30" cy="519.10" r="1.70" fill="#fff" stroke="#1c1c1c" stroke-width="1.1"/>
<circle cx="605.30" cy="567.70" r="1.70" fill="#fff" stroke="#1c1c1c" stroke-width="1.1"/>
<circle cx="614.80" cy="519.10" r="1.70" fill="#fff" stroke="#1c1c1c" stroke-width="1.1"/>
<circle cx="614.80" cy="567.70" r="1.70" fill="#fff" stroke="#1c1c1c" stroke-width="1.1"/>
<rect x="598.10" y="523.40" width="13.40" height="13.40" fill="#fff" stroke="#1c1c1c" stroke-width="1.3" />
<rect x="598.60" y="523.90" width="2.01" height="2.01" fill="#6a6a6a"/>
<rect x="598.60" y="534.29" width="2.01" height="2.01" fill="#6a6a6a"/>
<rect x="608.99" y="523.90" width="2.01" height="2.01" fill="#6a6a6a"/>
<rect x="608.99" y="534.29" width="2.01" height="2.01" fill="#6a6a6a"/>
<circle cx="604.80" cy="530.10" r="5.50" fill="#fff" stroke="#1c1c1c" stroke-width="1.1"/>
<rect x="598.10" y="545.40" width="13.40" height="13.40" fill="#fff" stroke="#1c1c1c" stroke-width="1.3" />
<rect x="598.60" y="545.90" width="2.01" height="2.01" fill="#6a6a6a"/>
<rect x="598.60" y="556.29" width="2.01" height="2.01" fill="#6a6a6a"/>
<rect x="608.99" y="545.90" width="2.01" height="2.01" fill="#6a6a6a"/>
<rect x="608.99" y="556.29" width="2.01" height="2.01" fill="#6a6a6a"/>
<circle cx="604.80" cy="552.10" r="5.50" fill="#fff" stroke="#1c1c1c" stroke-width="1.1"/>
<rect x="598.10" y="572.80" width="13.40" height="13.40" fill="#fff" stroke="#1c1c1c" stroke-width="1.3" />
<rect x="598.60" y="573.30" width="2.01" height="2.01" fill="#6a6a6a"/>
<rect x="598.60" y="583.69" width="2.01" height="2.01" fill="#6a6a6a"/>
<rect x="608.99" y="573.30" width="2.01" height="2.01" fill="#6a6a6a"/>
<rect x="608.99" y="583.69" width="2.01" height="2.01" fill="#6a6a6a"/>
<circle cx="604.80" cy="579.50" r="5.50" fill="#fff" stroke="#1c1c1c" stroke-width="1.1"/>
<line x1="645.80" y1="497.00" x2="645.80" y2="507.90" stroke="#1c1c1c" stroke-width="1.3" />
<line x1="688.30" y1="497.00" x2="688.30" y2="507.90" stroke="#1c1c1c" stroke-width="1.3" />
<line x1="645.80" y1="507.90" x2="688.30" y2="507.90" stroke="#1c1c1c" stroke-width="1.3" />
<line x1="662.00" y1="497.00" x2="662.00" y2="507.90" stroke="#1c1c1c" stroke-width="1.3" />
<line x1="655.80" y1="507.90" x2="655.80" y2="517.60" stroke="#1c1c1c" stroke-width="1.2" />
<line x1="665.30" y1="507.90" x2="665.30" y2="517.60" stroke="#1c1c1c" stroke-width="1.2" />
<line x1="674.80" y1="507.90" x2="674.80" y2="517.60" stroke="#1c1c1c" stroke-width="1.2" />
<rect x="651.15" y="515.60" width="27.70" height="71.60" fill="#fff" stroke="#1c1c1c" stroke-width="1.2" rx="0.8"/>
<circle cx="655.80" cy="519.10" r="1.70" fill="#fff" stroke="#1c1c1c" stroke-width="1.1"/>
<circle cx="655.80" cy="567.70" r="1.70" fill="#fff" stroke="#1c1c1c" stroke-width="1.1"/>
<circle cx="665.30" cy="519.10" r="1.70" fill="#fff" stroke="#1c1c1c" stroke-width="1.1"/>
<circle cx="665.30" cy="567.70" r="1.70" fill="#fff" stroke="#1c1c1c" stroke-width="1.1"/>
<circle cx="674.80" cy="519.10" r="1.70" fill="#fff" stroke="#1c1c1c" stroke-width="1.1"/>
<circle cx="674.80" cy="567.70" r="1.70" fill="#fff" stroke="#1c1c1c" stroke-width="1.1"/>
<rect x="658.10" y="523.40" width="13.40" height="13.40" fill="#fff" stroke="#1c1c1c" stroke-width="1.3" />
<rect x="658.60" y="523.90" width="2.01" height="2.01" fill="#6a6a6a"/>
<rect x="658.60" y="534.29" width="2.01" height="2.01" fill="#6a6a6a"/>
<rect x="668.99" y="523.90" width="2.01" height="2.01" fill="#6a6a6a"/>
<rect x="668.99" y="534.29" width="2.01" height="2.01" fill="#6a6a6a"/>
<circle cx="664.80" cy="530.10" r="5.50" fill="#fff" stroke="#1c1c1c" stroke-width="1.1"/>
<rect x="658.10" y="545.40" width="13.40" height="13.40" fill="#fff" stroke="#1c1c1c" stroke-width="1.3" />
<rect x="658.60" y="545.90" width="2.01" height="2.01" fill="#6a6a6a"/>
<rect x="658.60" y="556.29" width="2.01" height="2.01" fill="#6a6a6a"/>
<rect x="668.99" y="545.90" width="2.01" height="2.01" fill="#6a6a6a"/>
<rect x="668.99" y="556.29" width="2.01" height="2.01" fill="#6a6a6a"/>
<circle cx="664.80" cy="552.10" r="5.50" fill="#fff" stroke="#1c1c1c" stroke-width="1.1"/>
<rect x="658.10" y="572.80" width="13.40" height="13.40" fill="#fff" stroke="#1c1c1c" stroke-width="1.3" />
<rect x="658.60" y="573.30" width="2.01" height="2.01" fill="#6a6a6a"/>
<rect x="658.60" y="583.69" width="2.01" height="2.01" fill="#6a6a6a"/>
<rect x="668.99" y="573.30" width="2.01" height="2.01" fill="#6a6a6a"/>
<rect x="668.99" y="583.69" width="2.01" height="2.01" fill="#6a6a6a"/>
<circle cx="664.80" cy="579.50" r="5.50" fill="#fff" stroke="#1c1c1c" stroke-width="1.1"/>
<line x1="705.50" y1="497.00" x2="705.50" y2="507.90" stroke="#1c1c1c" stroke-width="1.3" />
<line x1="748.70" y1="497.00" x2="748.70" y2="507.90" stroke="#1c1c1c" stroke-width="1.3" />
<line x1="705.50" y1="507.90" x2="748.70" y2="507.90" stroke="#1c1c1c" stroke-width="1.3" />
<line x1="722.50" y1="497.00" x2="722.50" y2="507.90" stroke="#1c1c1c" stroke-width="1.3" />
<line x1="716.10" y1="507.90" x2="716.10" y2="517.60" stroke="#1c1c1c" stroke-width="1.2" />
<line x1="725.60" y1="507.90" x2="725.60" y2="517.60" stroke="#1c1c1c" stroke-width="1.2" />
<line x1="735.10" y1="507.90" x2="735.10" y2="517.60" stroke="#1c1c1c" stroke-width="1.2" />
<rect x="711.45" y="515.60" width="27.70" height="71.60" fill="#fff" stroke="#1c1c1c" stroke-width="1.2" rx="0.8"/>
<circle cx="716.10" cy="519.10" r="1.70" fill="#fff" stroke="#1c1c1c" stroke-width="1.1"/>
<circle cx="716.10" cy="567.70" r="1.70" fill="#fff" stroke="#1c1c1c" stroke-width="1.1"/>
<circle cx="725.60" cy="519.10" r="1.70" fill="#fff" stroke="#1c1c1c" stroke-width="1.1"/>
<circle cx="725.60" cy="567.70" r="1.70" fill="#fff" stroke="#1c1c1c" stroke-width="1.1"/>
<circle cx="735.10" cy="519.10" r="1.70" fill="#fff" stroke="#1c1c1c" stroke-width="1.1"/>
<circle cx="735.10" cy="567.70" r="1.70" fill="#fff" stroke="#1c1c1c" stroke-width="1.1"/>
<rect x="718.40" y="523.40" width="13.40" height="13.40" fill="#fff" stroke="#1c1c1c" stroke-width="1.3" />
<rect x="718.90" y="523.90" width="2.01" height="2.01" fill="#6a6a6a"/>
<rect x="718.90" y="534.29" width="2.01" height="2.01" fill="#6a6a6a"/>
<rect x="729.29" y="523.90" width="2.01" height="2.01" fill="#6a6a6a"/>
<rect x="729.29" y="534.29" width="2.01" height="2.01" fill="#6a6a6a"/>
<circle cx="725.10" cy="530.10" r="5.50" fill="#fff" stroke="#1c1c1c" stroke-width="1.1"/>
<rect x="718.40" y="545.40" width="13.40" height="13.40" fill="#fff" stroke="#1c1c1c" stroke-width="1.3" />
<rect x="718.90" y="545.90" width="2.01" height="2.01" fill="#6a6a6a"/>
<rect x="718.90" y="556.29" width="2.01" height="2.01" fill="#6a6a6a"/>
<rect x="729.29" y="545.90" width="2.01" height="2.01" fill="#6a6a6a"/>
<rect x="729.29" y="556.29" width="2.01" height="2.01" fill="#6a6a6a"/>
<circle cx="725.10" cy="552.10" r="5.50" fill="#fff" stroke="#1c1c1c" stroke-width="1.1"/>
<rect x="718.40" y="572.80" width="13.40" height="13.40" fill="#fff" stroke="#1c1c1c" stroke-width="1.3" />
<rect x="718.90" y="573.30" width="2.01" height="2.01" fill="#6a6a6a"/>
<rect x="718.90" y="583.69" width="2.01" height="2.01" fill="#6a6a6a"/>
<rect x="729.29" y="573.30" width="2.01" height="2.01" fill="#6a6a6a"/>
<rect x="729.29" y="583.69" width="2.01" height="2.01" fill="#6a6a6a"/>
<circle cx="725.10" cy="579.50" r="5.50" fill="#fff" stroke="#1c1c1c" stroke-width="1.1"/>
<line x1="471.80" y1="321.60" x2="471.80" y2="314.50" stroke="#1c1c1c" stroke-width="1.3" />
<line x1="499.50" y1="321.60" x2="499.50" y2="314.50" stroke="#1c1c1c" stroke-width="1.3" />
<line x1="471.80" y1="314.50" x2="499.50" y2="314.50" stroke="#1c1c1c" stroke-width="1.3" />
<line x1="488.80" y1="321.60" x2="488.80" y2="314.50" stroke="#1c1c1c" stroke-width="1.3" />
<line x1="481.10" y1="314.50" x2="481.10" y2="308.00" stroke="#1c1c1c" stroke-width="1.1" />
<line x1="487.10" y1="314.50" x2="487.10" y2="308.00" stroke="#1c1c1c" stroke-width="1.1" />
<line x1="493.10" y1="314.50" x2="493.10" y2="308.00" stroke="#1c1c1c" stroke-width="1.1" />
<rect x="477.80" y="263.00" width="18.60" height="45.40" fill="#fff" stroke="#1c1c1c" stroke-width="1.2" rx="0.8"/>
<rect x="482.45" y="263.55" width="9.30" height="9.30" fill="#161616"/>
<circle cx="487.10" cy="268.20" r="3.45" fill="#fff"/>
<rect x="482.45" y="281.35" width="9.30" height="9.30" fill="#161616"/>
<circle cx="487.10" cy="286.00" r="3.45" fill="#fff"/>
<rect x="482.45" y="296.25" width="9.30" height="9.30" fill="#161616"/>
<circle cx="487.10" cy="300.90" r="3.45" fill="#fff"/>
<circle cx="480.90" cy="276.00" r="1.15" fill="#555" stroke="#222" stroke-width="0.7"/>
<circle cx="480.90" cy="307.60" r="1.15" fill="#555" stroke="#222" stroke-width="0.7"/>
<circle cx="487.10" cy="276.00" r="1.15" fill="#555" stroke="#222" stroke-width="0.7"/>
<circle cx="487.10" cy="307.60" r="1.15" fill="#555" stroke="#222" stroke-width="0.7"/>
<circle cx="493.30" cy="276.00" r="1.15" fill="#555" stroke="#222" stroke-width="0.7"/>
<circle cx="493.30" cy="307.60" r="1.15" fill="#555" stroke="#222" stroke-width="0.7"/>
<line x1="532.60" y1="321.60" x2="532.60" y2="314.50" stroke="#1c1c1c" stroke-width="1.3" />
<line x1="560.40" y1="321.60" x2="560.40" y2="314.50" stroke="#1c1c1c" stroke-width="1.3" />
<line x1="532.60" y1="314.50" x2="560.40" y2="314.50" stroke="#1c1c1c" stroke-width="1.3" />
<line x1="549.30" y1="321.60" x2="549.30" y2="314.50" stroke="#1c1c1c" stroke-width="1.3" />
<line x1="541.50" y1="314.50" x2="541.50" y2="308.00" stroke="#1c1c1c" stroke-width="1.1" />
<line x1="547.50" y1="314.50" x2="547.50" y2="308.00" stroke="#1c1c1c" stroke-width="1.1" />
<line x1="553.50" y1="314.50" x2="553.50" y2="308.00" stroke="#1c1c1c" stroke-width="1.1" />
<rect x="538.20" y="263.00" width="18.60" height="45.40" fill="#fff" stroke="#1c1c1c" stroke-width="1.2" rx="0.8"/>
<rect x="542.85" y="263.55" width="9.30" height="9.30" fill="#161616"/>
<circle cx="547.50" cy="268.20" r="3.45" fill="#fff"/>
<rect x="542.85" y="281.35" width="9.30" height="9.30" fill="#161616"/>
<circle cx="547.50" cy="286.00" r="3.45" fill="#fff"/>
<rect x="542.85" y="296.25" width="9.30" height="9.30" fill="#161616"/>
<circle cx="547.50" cy="300.90" r="3.45" fill="#fff"/>
<circle cx="541.30" cy="276.00" r="1.15" fill="#555" stroke="#222" stroke-width="0.7"/>
<circle cx="541.30" cy="307.60" r="1.15" fill="#555" stroke="#222" stroke-width="0.7"/>
<circle cx="547.50" cy="276.00" r="1.15" fill="#555" stroke="#222" stroke-width="0.7"/>
<circle cx="547.50" cy="307.60" r="1.15" fill="#555" stroke="#222" stroke-width="0.7"/>
<circle cx="553.70" cy="276.00" r="1.15" fill="#555" stroke="#222" stroke-width="0.7"/>
<circle cx="553.70" cy="307.60" r="1.15" fill="#555" stroke="#222" stroke-width="0.7"/>
<line x1="592.30" y1="321.60" x2="592.30" y2="314.50" stroke="#1c1c1c" stroke-width="1.3" />
<line x1="620.20" y1="321.60" x2="620.20" y2="314.50" stroke="#1c1c1c" stroke-width="1.3" />
<line x1="592.30" y1="314.50" x2="620.20" y2="314.50" stroke="#1c1c1c" stroke-width="1.3" />
<line x1="609.70" y1="321.60" x2="609.70" y2="314.50" stroke="#1c1c1c" stroke-width="1.3" />
<line x1="601.70" y1="314.50" x2="601.70" y2="308.00" stroke="#1c1c1c" stroke-width="1.1" />
<line x1="607.70" y1="314.50" x2="607.70" y2="308.00" stroke="#1c1c1c" stroke-width="1.1" />
<line x1="613.70" y1="314.50" x2="613.70" y2="308.00" stroke="#1c1c1c" stroke-width="1.1" />
<rect x="598.40" y="263.00" width="18.60" height="45.40" fill="#fff" stroke="#1c1c1c" stroke-width="1.2" rx="0.8"/>
<rect x="603.05" y="263.55" width="9.30" height="9.30" fill="#161616"/>
<circle cx="607.70" cy="268.20" r="3.45" fill="#fff"/>
<rect x="603.05" y="281.35" width="9.30" height="9.30" fill="#161616"/>
<circle cx="607.70" cy="286.00" r="3.45" fill="#fff"/>
<rect x="603.05" y="296.25" width="9.30" height="9.30" fill="#161616"/>
<circle cx="607.70" cy="300.90" r="3.45" fill="#fff"/>
<circle cx="601.50" cy="276.00" r="1.15" fill="#555" stroke="#222" stroke-width="0.7"/>
<circle cx="601.50" cy="307.60" r="1.15" fill="#555" stroke="#222" stroke-width="0.7"/>
<circle cx="607.70" cy="276.00" r="1.15" fill="#555" stroke="#222" stroke-width="0.7"/>
<circle cx="607.70" cy="307.60" r="1.15" fill="#555" stroke="#222" stroke-width="0.7"/>
<circle cx="613.90" cy="276.00" r="1.15" fill="#555" stroke="#222" stroke-width="0.7"/>
<circle cx="613.90" cy="307.60" r="1.15" fill="#555" stroke="#222" stroke-width="0.7"/>
<line x1="645.60" y1="305.40" x2="685.00" y2="305.40" stroke="#1c1c1c" stroke-width="1.3" />
<line x1="645.60" y1="305.40" x2="645.60" y2="321.60" stroke="#1c1c1c" stroke-width="1.3" />
<line x1="685.00" y1="305.40" x2="685.00" y2="321.60" stroke="#1c1c1c" stroke-width="1.3" />
<line x1="657.50" y1="305.40" x2="657.50" y2="321.60" stroke="#1c1c1c" stroke-width="1.3" />
<rect x="701.90" y="291.00" width="53.70" height="26.50" fill="#fff" stroke="#1c1c1c" stroke-width="1.2" />
<text x="726.85" y="306.50" font-size="12.6" text-anchor="middle" font-weight="bold" fill="#111" textLength="36.50" lengthAdjust="spacingAndGlyphs" >power</text>
<line x1="755.60" y1="298.40" x2="781.20" y2="298.40" stroke="#111" stroke-width="2.4" stroke-linecap="round"/>
<line x1="755.60" y1="310.10" x2="781.20" y2="310.10" stroke="#111" stroke-width="2.4" stroke-linecap="round"/>
<line x1="715.40" y1="317.50" x2="715.40" y2="335.80" stroke="#1c1c1c" stroke-width="1.3" />
<line x1="743.10" y1="317.50" x2="743.10" y2="335.80" stroke="#1c1c1c" stroke-width="1.3" />
<circle cx="787" cy="403" r="17" fill="rgba(0,0,0,0.21)"/>
<polyline points="785.2,397.4 791,403.1 785.2,408.8" fill="none" stroke="#fff" stroke-width="1.3"/>
</svg></body></html>
